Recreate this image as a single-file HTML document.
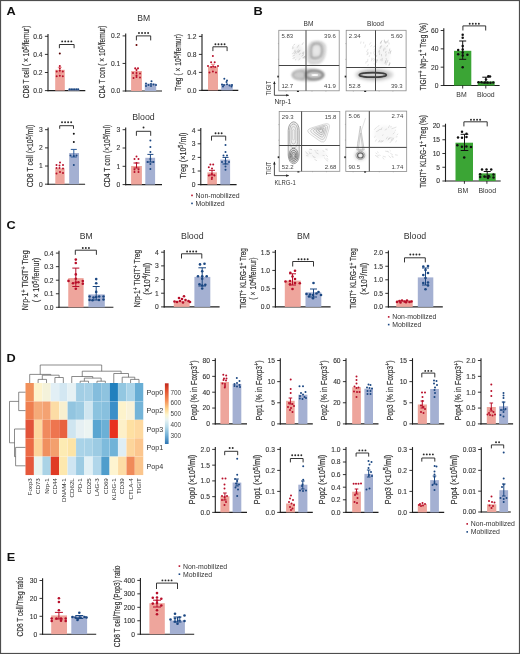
<!DOCTYPE html>
<html><head><meta charset="utf-8"><style>
html,body{margin:0;padding:0;background:#fff;}
svg{display:block;font-family:"Liberation Sans", sans-serif;filter:blur(0.35px);}
</style></head><body>
<svg width="520" height="654" viewBox="0 0 520 654">
<defs>
<filter id="bl" x="-20%" y="-20%" width="140%" height="140%"><feGaussianBlur stdDeviation="0.7"/></filter>
<filter id="fb3" x="-50%" y="-50%" width="200%" height="200%"><feGaussianBlur stdDeviation="0.3"/></filter><filter id="fb4" x="-50%" y="-50%" width="200%" height="200%"><feGaussianBlur stdDeviation="0.4"/></filter><filter id="fb5" x="-50%" y="-50%" width="200%" height="200%"><feGaussianBlur stdDeviation="0.5"/></filter><filter id="fb6" x="-50%" y="-50%" width="200%" height="200%"><feGaussianBlur stdDeviation="0.6"/></filter><filter id="fb7" x="-50%" y="-50%" width="200%" height="200%"><feGaussianBlur stdDeviation="0.7"/></filter><filter id="fb8" x="-50%" y="-50%" width="200%" height="200%"><feGaussianBlur stdDeviation="0.8"/></filter><filter id="fb9" x="-50%" y="-50%" width="200%" height="200%"><feGaussianBlur stdDeviation="0.9"/></filter><filter id="fb10" x="-50%" y="-50%" width="200%" height="200%"><feGaussianBlur stdDeviation="1.0"/></filter><filter id="fb11" x="-50%" y="-50%" width="200%" height="200%"><feGaussianBlur stdDeviation="1.1"/></filter><filter id="fb12" x="-50%" y="-50%" width="200%" height="200%"><feGaussianBlur stdDeviation="1.2"/></filter><filter id="fb13" x="-50%" y="-50%" width="200%" height="200%"><feGaussianBlur stdDeviation="1.3"/></filter><filter id="fb14" x="-50%" y="-50%" width="200%" height="200%"><feGaussianBlur stdDeviation="1.4"/></filter><filter id="fb15" x="-50%" y="-50%" width="200%" height="200%"><feGaussianBlur stdDeviation="1.5"/></filter><filter id="fb16" x="-50%" y="-50%" width="200%" height="200%"><feGaussianBlur stdDeviation="1.6"/></filter><filter id="fb17" x="-50%" y="-50%" width="200%" height="200%"><feGaussianBlur stdDeviation="1.7"/></filter><filter id="fb18" x="-50%" y="-50%" width="200%" height="200%"><feGaussianBlur stdDeviation="1.8"/></filter><filter id="fb19" x="-50%" y="-50%" width="200%" height="200%"><feGaussianBlur stdDeviation="1.9"/></filter>
<filter id="bl2" x="-20%" y="-20%" width="140%" height="140%"><feGaussianBlur stdDeviation="1.2"/></filter>
<linearGradient id="cbar" x1="0" y1="0" x2="0" y2="1">
<stop offset="0" stop-color="#c0261c"/><stop offset="0.12" stop-color="#e2512f"/><stop offset="0.28" stop-color="#f48c55"/>
<stop offset="0.42" stop-color="#fdd38c"/><stop offset="0.52" stop-color="#fdf6cf"/><stop offset="0.6" stop-color="#e9f4f4"/>
<stop offset="0.72" stop-color="#b7dbeb"/><stop offset="0.86" stop-color="#6eaed6"/><stop offset="1" stop-color="#2c74b1"/>
</linearGradient>
</defs>
<rect x="0" y="0" width="520" height="654" fill="#fff"/>
<g filter="url(#fb15)"><ellipse cx="298.50" cy="52.50" rx="5.50" ry="7.50" fill="#000" fill-opacity="0.05" stroke="none" stroke-width="0.6" opacity="1"/></g>
<g filter="url(#fb5)"><line x1="293.75" y1="58.56" x2="295.24" y2="57.21" stroke="#b4b4b4" stroke-width="0.45"/><line x1="298.44" y1="52.19" x2="300.48" y2="49.88" stroke="#b4b4b4" stroke-width="0.45"/><line x1="293.22" y1="45.45" x2="295.08" y2="44.00" stroke="#b4b4b4" stroke-width="0.45"/><line x1="301.91" y1="45.03" x2="303.36" y2="42.47" stroke="#b4b4b4" stroke-width="0.45"/><line x1="294.97" y1="60.12" x2="296.26" y2="59.24" stroke="#b4b4b4" stroke-width="0.45"/><line x1="292.33" y1="53.66" x2="294.25" y2="52.46" stroke="#b4b4b4" stroke-width="0.45"/><line x1="294.82" y1="51.75" x2="295.01" y2="49.82" stroke="#b4b4b4" stroke-width="0.45"/><line x1="297.69" y1="52.93" x2="298.28" y2="51.06" stroke="#b4b4b4" stroke-width="0.45"/><line x1="294.84" y1="52.35" x2="295.39" y2="50.91" stroke="#b4b4b4" stroke-width="0.45"/><line x1="302.89" y1="53.90" x2="304.11" y2="52.49" stroke="#b4b4b4" stroke-width="0.45"/><line x1="304.90" y1="58.76" x2="305.32" y2="56.63" stroke="#b4b4b4" stroke-width="0.45"/><line x1="301.38" y1="56.38" x2="303.36" y2="55.13" stroke="#b4b4b4" stroke-width="0.45"/><line x1="302.79" y1="55.72" x2="303.77" y2="53.23" stroke="#b4b4b4" stroke-width="0.45"/><line x1="303.47" y1="58.54" x2="304.93" y2="56.29" stroke="#b4b4b4" stroke-width="0.45"/><line x1="292.45" y1="48.88" x2="294.23" y2="47.38" stroke="#b4b4b4" stroke-width="0.45"/><line x1="294.25" y1="53.78" x2="296.24" y2="51.74" stroke="#b4b4b4" stroke-width="0.45"/><line x1="296.87" y1="52.02" x2="298.54" y2="49.47" stroke="#b4b4b4" stroke-width="0.45"/><line x1="298.77" y1="51.29" x2="299.60" y2="49.97" stroke="#b4b4b4" stroke-width="0.45"/><line x1="292.57" y1="56.25" x2="294.90" y2="54.93" stroke="#b4b4b4" stroke-width="0.45"/><line x1="297.12" y1="47.73" x2="299.00" y2="44.81" stroke="#b4b4b4" stroke-width="0.45"/><line x1="302.02" y1="53.63" x2="303.59" y2="52.46" stroke="#b4b4b4" stroke-width="0.45"/><line x1="298.68" y1="60.24" x2="300.14" y2="58.31" stroke="#b4b4b4" stroke-width="0.45"/><line x1="295.50" y1="53.77" x2="296.79" y2="52.99" stroke="#b4b4b4" stroke-width="0.45"/><line x1="302.19" y1="58.13" x2="304.62" y2="56.41" stroke="#b4b4b4" stroke-width="0.45"/><line x1="302.52" y1="53.30" x2="303.91" y2="51.40" stroke="#b4b4b4" stroke-width="0.45"/><line x1="292.73" y1="58.92" x2="293.87" y2="57.40" stroke="#b4b4b4" stroke-width="0.45"/><line x1="298.56" y1="52.76" x2="299.47" y2="50.76" stroke="#b4b4b4" stroke-width="0.45"/><line x1="299.00" y1="54.98" x2="300.53" y2="53.10" stroke="#b4b4b4" stroke-width="0.45"/><line x1="292.36" y1="48.67" x2="293.02" y2="46.09" stroke="#b4b4b4" stroke-width="0.45"/><line x1="303.19" y1="57.78" x2="305.58" y2="55.75" stroke="#b4b4b4" stroke-width="0.45"/></g>
<g filter="url(#fb12)"><path d="M308,62 C306,52 307,44 312,41.5 C318,39.5 326,41 326,47 C326.5,54 324.5,61 320,63.5 C314,65 309,65 308,62 Z" fill="#000" fill-opacity="0.13"/></g>
<g filter="url(#fb9)"><path d="M311.2,57 C310.8,51 311,46 313,44.3 C316,43 320,43.2 321.3,45.5 C322.3,49 322,54 320.5,56.5 C318,58.5 312.5,59 311.2,57 Z" fill="none" stroke="#777" stroke-width="1.5" opacity="0.75"/><ellipse cx="316.40" cy="50.40" rx="3.00" ry="4.20" fill="#fff" fill-opacity="0.3" stroke="none" stroke-width="0.6" opacity="1"/></g>
<g filter="url(#fb8)"><path d="M308.6,61.5 C307.5,52 308.5,45 312.5,42.6 C318,41 324.5,42 325,47 C325.3,54 323.5,60 319.5,62.4 C314,63.6 309.5,63.6 308.6,61.5 Z" fill="none" stroke="#b0b0b0" stroke-width="0.7" opacity="0.8"/></g>
<g filter="url(#fb13)"><ellipse cx="308.30" cy="74.80" rx="16.80" ry="6.60" fill="#000" fill-opacity="0.2" stroke="none" stroke-width="0.6" opacity="1"/></g>
<g filter="url(#fb9)"><ellipse cx="314.20" cy="75.00" rx="8.80" ry="4.40" fill="none" fill-opacity="1" stroke="#5e5e5e" stroke-width="1.8" opacity="0.8"/><ellipse cx="299.50" cy="75.00" rx="6.80" ry="4.30" fill="none" fill-opacity="1" stroke="#8a8a8a" stroke-width="1.1" opacity="0.75"/></g>
<g filter="url(#fb6)"><ellipse cx="314.80" cy="75.10" rx="3.40" ry="1.00" fill="#fff" fill-opacity="0.9" stroke="none" stroke-width="0.6" opacity="1"/></g>
<rect x="278.80" y="30.30" width="60.40" height="60.50" fill="none" stroke="#8a8a8a" stroke-width="0.8"/>
<line x1="306.00" y1="30.30" x2="306.00" y2="90.80" stroke="#444" stroke-width="1.0"/>
<line x1="278.80" y1="65.50" x2="339.20" y2="65.50" stroke="#444" stroke-width="1.0"/>
<text x="281.40" y="37.60" font-size="6.0" text-anchor="start" fill="#444" font-weight="normal" >5.83</text>
<text x="335.80" y="37.60" font-size="6.0" text-anchor="end" fill="#444" font-weight="normal" >39.6</text>
<text x="281.40" y="88.00" font-size="6.0" text-anchor="start" fill="#444" font-weight="normal" >12.7</text>
<text x="335.80" y="88.00" font-size="6.0" text-anchor="end" fill="#444" font-weight="normal" >41.9</text>
<line x1="277.90" y1="43.61" x2="278.80" y2="43.61" stroke="#888" stroke-width="0.5"/>
<line x1="277.90" y1="59.34" x2="278.80" y2="59.34" stroke="#888" stroke-width="0.5"/>
<rect x="277.30" y="75.67" width="1.5" height="1.8" fill="#222"/>
<rect x="296.92" y="90.80" width="2.0" height="1.2" fill="#222"/>
<line x1="286.05" y1="90.80" x2="286.05" y2="91.70" stroke="#888" stroke-width="0.5"/>
<line x1="312.02" y1="90.80" x2="312.02" y2="91.70" stroke="#888" stroke-width="0.5"/>
<line x1="325.91" y1="90.80" x2="325.91" y2="91.70" stroke="#888" stroke-width="0.5"/>
<g filter="url(#fb15)"><ellipse cx="383.00" cy="54.50" rx="7.00" ry="11.00" fill="#000" fill-opacity="0.04" stroke="none" stroke-width="0.6" opacity="1"/></g>
<g filter="url(#fb5)"><line x1="374.34" y1="64.80" x2="374.05" y2="63.16" stroke="#c8c8c8" stroke-width="0.45"/><line x1="372.53" y1="59.93" x2="373.43" y2="58.01" stroke="#c8c8c8" stroke-width="0.45"/><line x1="369.09" y1="56.96" x2="369.72" y2="55.25" stroke="#c8c8c8" stroke-width="0.45"/><line x1="366.46" y1="52.05" x2="368.11" y2="48.98" stroke="#c8c8c8" stroke-width="0.45"/><line x1="374.24" y1="55.52" x2="374.68" y2="53.53" stroke="#c8c8c8" stroke-width="0.45"/><line x1="360.54" y1="43.63" x2="361.04" y2="41.55" stroke="#c8c8c8" stroke-width="0.45"/><line x1="365.70" y1="63.51" x2="366.47" y2="61.00" stroke="#c8c8c8" stroke-width="0.45"/><line x1="363.54" y1="43.55" x2="363.71" y2="41.78" stroke="#c8c8c8" stroke-width="0.45"/><line x1="367.65" y1="65.97" x2="368.46" y2="64.29" stroke="#c8c8c8" stroke-width="0.45"/><line x1="373.40" y1="61.33" x2="375.01" y2="58.43" stroke="#c8c8c8" stroke-width="0.45"/><line x1="371.44" y1="61.16" x2="371.87" y2="57.73" stroke="#c8c8c8" stroke-width="0.45"/><line x1="374.43" y1="46.71" x2="375.90" y2="44.17" stroke="#c8c8c8" stroke-width="0.45"/><line x1="366.92" y1="55.20" x2="367.78" y2="51.96" stroke="#c8c8c8" stroke-width="0.45"/><line x1="367.51" y1="62.13" x2="367.92" y2="58.88" stroke="#c8c8c8" stroke-width="0.45"/><line x1="373.50" y1="53.60" x2="374.60" y2="50.45" stroke="#c8c8c8" stroke-width="0.45"/><line x1="370.86" y1="54.19" x2="370.84" y2="52.04" stroke="#c8c8c8" stroke-width="0.45"/><line x1="370.49" y1="46.82" x2="371.77" y2="45.23" stroke="#c8c8c8" stroke-width="0.45"/><line x1="373.67" y1="50.12" x2="375.61" y2="47.95" stroke="#c8c8c8" stroke-width="0.45"/><line x1="367.56" y1="54.91" x2="368.66" y2="52.47" stroke="#c8c8c8" stroke-width="0.45"/><line x1="364.68" y1="47.78" x2="365.62" y2="44.55" stroke="#c8c8c8" stroke-width="0.45"/><line x1="369.35" y1="44.73" x2="370.99" y2="42.28" stroke="#c8c8c8" stroke-width="0.45"/><line x1="373.61" y1="47.40" x2="374.41" y2="46.00" stroke="#c8c8c8" stroke-width="0.45"/></g>
<g filter="url(#fb5)"><line x1="379.57" y1="55.06" x2="379.68" y2="52.36" stroke="#b0b0b0" stroke-width="0.45"/><line x1="385.39" y1="43.57" x2="384.40" y2="40.55" stroke="#b0b0b0" stroke-width="0.45"/><line x1="379.89" y1="47.62" x2="381.40" y2="45.71" stroke="#b0b0b0" stroke-width="0.45"/><line x1="388.55" y1="53.43" x2="389.10" y2="51.72" stroke="#b0b0b0" stroke-width="0.45"/><line x1="385.52" y1="62.83" x2="386.10" y2="59.91" stroke="#b0b0b0" stroke-width="0.45"/><line x1="386.07" y1="43.54" x2="387.19" y2="41.10" stroke="#b0b0b0" stroke-width="0.45"/><line x1="380.52" y1="42.74" x2="381.77" y2="40.64" stroke="#b0b0b0" stroke-width="0.45"/><line x1="386.78" y1="63.09" x2="388.04" y2="59.99" stroke="#b0b0b0" stroke-width="0.45"/><line x1="381.92" y1="61.22" x2="382.31" y2="57.87" stroke="#b0b0b0" stroke-width="0.45"/><line x1="389.18" y1="44.34" x2="388.81" y2="42.44" stroke="#b0b0b0" stroke-width="0.45"/><line x1="390.48" y1="52.47" x2="391.10" y2="50.46" stroke="#b0b0b0" stroke-width="0.45"/><line x1="383.61" y1="51.26" x2="383.67" y2="48.59" stroke="#b0b0b0" stroke-width="0.45"/><line x1="384.76" y1="63.70" x2="385.92" y2="60.55" stroke="#b0b0b0" stroke-width="0.45"/><line x1="388.85" y1="65.78" x2="389.46" y2="64.06" stroke="#b0b0b0" stroke-width="0.45"/><line x1="388.91" y1="65.15" x2="390.35" y2="62.94" stroke="#b0b0b0" stroke-width="0.45"/><line x1="386.71" y1="47.07" x2="387.98" y2="44.75" stroke="#b0b0b0" stroke-width="0.45"/><line x1="380.27" y1="43.52" x2="382.02" y2="40.51" stroke="#b0b0b0" stroke-width="0.45"/><line x1="377.33" y1="61.21" x2="377.47" y2="59.42" stroke="#b0b0b0" stroke-width="0.45"/><line x1="380.41" y1="60.45" x2="381.23" y2="59.09" stroke="#b0b0b0" stroke-width="0.45"/><line x1="385.22" y1="43.08" x2="386.04" y2="41.08" stroke="#b0b0b0" stroke-width="0.45"/><line x1="389.21" y1="65.54" x2="389.83" y2="62.09" stroke="#b0b0b0" stroke-width="0.45"/><line x1="380.65" y1="43.85" x2="381.06" y2="42.34" stroke="#b0b0b0" stroke-width="0.45"/><line x1="378.96" y1="51.79" x2="379.46" y2="50.05" stroke="#b0b0b0" stroke-width="0.45"/><line x1="376.64" y1="62.83" x2="376.58" y2="59.41" stroke="#b0b0b0" stroke-width="0.45"/><line x1="389.45" y1="51.07" x2="389.78" y2="48.55" stroke="#b0b0b0" stroke-width="0.45"/><line x1="385.66" y1="56.30" x2="386.28" y2="53.63" stroke="#b0b0b0" stroke-width="0.45"/><line x1="390.11" y1="54.17" x2="390.41" y2="51.24" stroke="#b0b0b0" stroke-width="0.45"/><line x1="379.56" y1="49.23" x2="381.10" y2="47.20" stroke="#b0b0b0" stroke-width="0.45"/><line x1="384.23" y1="42.27" x2="384.45" y2="39.62" stroke="#b0b0b0" stroke-width="0.45"/><line x1="376.30" y1="56.78" x2="376.78" y2="55.23" stroke="#b0b0b0" stroke-width="0.45"/><line x1="385.41" y1="53.19" x2="386.17" y2="51.12" stroke="#b0b0b0" stroke-width="0.45"/><line x1="386.60" y1="59.71" x2="386.11" y2="58.17" stroke="#b0b0b0" stroke-width="0.45"/><line x1="386.14" y1="65.12" x2="385.95" y2="62.71" stroke="#b0b0b0" stroke-width="0.45"/><line x1="384.89" y1="49.68" x2="384.96" y2="47.56" stroke="#b0b0b0" stroke-width="0.45"/><line x1="381.54" y1="56.29" x2="381.47" y2="54.04" stroke="#b0b0b0" stroke-width="0.45"/><line x1="387.58" y1="42.65" x2="388.29" y2="39.76" stroke="#b0b0b0" stroke-width="0.45"/><line x1="380.65" y1="47.34" x2="381.55" y2="45.58" stroke="#b0b0b0" stroke-width="0.45"/><line x1="378.81" y1="52.45" x2="379.43" y2="50.86" stroke="#b0b0b0" stroke-width="0.45"/></g>
<g filter="url(#fb15)"><ellipse cx="374.30" cy="74.80" rx="19.00" ry="6.40" fill="#000" fill-opacity="0.16" stroke="none" stroke-width="0.6" opacity="1"/></g>
<g filter="url(#fb10)"><ellipse cx="373.50" cy="74.90" rx="15.50" ry="4.30" fill="#000" fill-opacity="0.14" stroke="none" stroke-width="0.6" opacity="1"/></g>
<g filter="url(#fb6)"><ellipse cx="372.80" cy="74.90" rx="13.50" ry="2.30" fill="none" fill-opacity="1" stroke="#2a2a2a" stroke-width="1.7" opacity="0.85"/><ellipse cx="372.80" cy="74.90" rx="10.50" ry="0.70" fill="#fff" fill-opacity="0.6" stroke="none" stroke-width="0.6" opacity="1"/></g>
<rect x="346.20" y="30.30" width="59.90" height="60.50" fill="none" stroke="#8a8a8a" stroke-width="0.8"/>
<line x1="375.50" y1="30.30" x2="375.50" y2="90.80" stroke="#444" stroke-width="1.0"/>
<line x1="346.20" y1="67.50" x2="406.10" y2="67.50" stroke="#444" stroke-width="1.0"/>
<text x="348.80" y="37.60" font-size="6.0" text-anchor="start" fill="#444" font-weight="normal" >2.34</text>
<text x="402.70" y="37.60" font-size="6.0" text-anchor="end" fill="#444" font-weight="normal" >5.60</text>
<text x="348.80" y="88.00" font-size="6.0" text-anchor="start" fill="#444" font-weight="normal" >52.8</text>
<text x="402.70" y="88.00" font-size="6.0" text-anchor="end" fill="#444" font-weight="normal" >39.3</text>
<line x1="345.30" y1="43.61" x2="346.20" y2="43.61" stroke="#888" stroke-width="0.5"/>
<line x1="345.30" y1="59.34" x2="346.20" y2="59.34" stroke="#888" stroke-width="0.5"/>
<rect x="344.70" y="75.67" width="1.5" height="1.8" fill="#222"/>
<rect x="364.17" y="90.80" width="2.0" height="1.2" fill="#222"/>
<line x1="353.39" y1="90.80" x2="353.39" y2="91.70" stroke="#888" stroke-width="0.5"/>
<line x1="379.14" y1="90.80" x2="379.14" y2="91.70" stroke="#888" stroke-width="0.5"/>
<line x1="392.92" y1="90.80" x2="392.92" y2="91.70" stroke="#888" stroke-width="0.5"/>
<g filter="url(#fb15)"><ellipse cx="316.00" cy="154.00" rx="11.00" ry="5.00" fill="#000" fill-opacity="0.03" stroke="none" stroke-width="0.6" opacity="1"/></g>
<g filter="url(#fb5)"><line x1="310.43" y1="149.24" x2="312.12" y2="149.75" stroke="#c0c0c0" stroke-width="0.45"/><line x1="306.53" y1="152.82" x2="308.49" y2="154.91" stroke="#c0c0c0" stroke-width="0.45"/><line x1="322.60" y1="150.66" x2="324.38" y2="151.50" stroke="#c0c0c0" stroke-width="0.45"/><line x1="308.97" y1="149.27" x2="312.03" y2="149.63" stroke="#c0c0c0" stroke-width="0.45"/><line x1="324.07" y1="157.68" x2="325.46" y2="158.86" stroke="#c0c0c0" stroke-width="0.45"/><line x1="312.13" y1="155.52" x2="314.51" y2="157.27" stroke="#c0c0c0" stroke-width="0.45"/><line x1="325.24" y1="149.04" x2="327.55" y2="150.32" stroke="#c0c0c0" stroke-width="0.45"/><line x1="316.64" y1="150.13" x2="318.17" y2="150.74" stroke="#c0c0c0" stroke-width="0.45"/><line x1="326.50" y1="158.39" x2="328.31" y2="159.26" stroke="#c0c0c0" stroke-width="0.45"/><line x1="325.90" y1="154.87" x2="327.99" y2="156.94" stroke="#c0c0c0" stroke-width="0.45"/><line x1="316.69" y1="152.97" x2="318.65" y2="154.04" stroke="#c0c0c0" stroke-width="0.45"/><line x1="308.71" y1="151.66" x2="309.90" y2="152.69" stroke="#c0c0c0" stroke-width="0.45"/><line x1="306.07" y1="155.52" x2="308.44" y2="155.95" stroke="#c0c0c0" stroke-width="0.45"/><line x1="315.84" y1="152.11" x2="316.98" y2="153.55" stroke="#c0c0c0" stroke-width="0.45"/><line x1="314.49" y1="150.43" x2="316.19" y2="151.43" stroke="#c0c0c0" stroke-width="0.45"/><line x1="313.18" y1="156.96" x2="315.57" y2="157.50" stroke="#c0c0c0" stroke-width="0.45"/><line x1="325.80" y1="149.21" x2="327.69" y2="149.14" stroke="#c0c0c0" stroke-width="0.45"/><line x1="322.60" y1="155.39" x2="324.64" y2="155.67" stroke="#c0c0c0" stroke-width="0.45"/><line x1="309.08" y1="153.51" x2="311.76" y2="153.35" stroke="#c0c0c0" stroke-width="0.45"/><line x1="325.61" y1="159.46" x2="328.13" y2="161.31" stroke="#c0c0c0" stroke-width="0.45"/><line x1="305.42" y1="151.47" x2="307.24" y2="153.61" stroke="#c0c0c0" stroke-width="0.45"/><line x1="314.44" y1="159.32" x2="316.95" y2="160.76" stroke="#c0c0c0" stroke-width="0.45"/></g>
<g filter="url(#fb4)"><path d="M310.10,134.06 Q304.50,130.00 311.92,127.76 L323.58,124.24 Q331.00,122.00 329.18,128.30 L326.32,138.20 Q324.50,144.50 318.90,140.44 Z" fill="#000" fill-opacity="0.02" stroke="#c4c4c4" stroke-width="0.65"/><path d="M312.50,133.28 Q308.13,130.11 313.92,128.36 L323.01,125.62 Q328.80,123.87 327.38,128.78 L325.15,136.51 Q323.73,141.42 319.36,138.25 Z" fill="#000" fill-opacity="0.02" stroke="#b4b4b4" stroke-width="0.65"/><path d="M314.79,132.53 Q311.60,130.22 315.82,128.94 L322.47,126.93 Q326.70,125.66 325.66,129.25 L324.03,134.89 Q323.00,138.48 319.80,136.17 Z" fill="#000" fill-opacity="0.02" stroke="#a6a6a6" stroke-width="0.65"/><path d="M316.86,131.85 Q314.73,130.31 317.55,129.46 L321.98,128.12 Q324.80,127.27 324.11,129.66 L323.02,133.43 Q322.33,135.82 320.20,134.28 Z" fill="#000" fill-opacity="0.02" stroke="#9a9a9a" stroke-width="0.65"/><path d="M318.82,131.21 Q317.70,130.40 319.18,129.95 L321.52,129.25 Q323.00,128.80 322.64,130.06 L322.06,132.04 Q321.70,133.30 320.58,132.49 Z" fill="#000" fill-opacity="0.02" stroke="#959595" stroke-width="0.65"/></g>
<g filter="url(#fb5)"><rect x="288.20" y="121.80" width="11.00" height="42.00" rx="5.50" ry="8.80" fill="#000" fill-opacity="0.07" stroke="#8a8a8a" stroke-width="0.75"/><rect x="289.60" y="124.00" width="8.00" height="24.00" rx="4.00" ry="6.40" fill="none" fill-opacity="0" stroke="#9a9a9a" stroke-width="0.65"/><rect x="291.20" y="126.50" width="4.60" height="17.50" rx="2.30" ry="3.68" fill="none" fill-opacity="0" stroke="#aaa" stroke-width="0.55"/><rect x="292.40" y="129.50" width="2.20" height="10.50" rx="1.10" ry="1.76" fill="none" fill-opacity="0" stroke="#bbb" stroke-width="0.5"/><ellipse cx="293.60" cy="155.20" rx="4.50" ry="7.00" fill="#000" fill-opacity="0.07" stroke="#6a6a6a" stroke-width="0.75" opacity="1"/><ellipse cx="293.60" cy="155.40" rx="3.30" ry="5.00" fill="none" fill-opacity="1" stroke="#5a5a5a" stroke-width="0.75" opacity="1"/><ellipse cx="293.60" cy="155.60" rx="2.10" ry="3.20" fill="none" fill-opacity="1" stroke="#555" stroke-width="0.7" opacity="1"/><ellipse cx="293.60" cy="155.80" rx="1.00" ry="1.60" fill="none" fill-opacity="1" stroke="#777" stroke-width="0.6" opacity="1"/></g>
<rect x="279.20" y="111.40" width="60.60" height="59.90" fill="none" stroke="#8a8a8a" stroke-width="0.8"/>
<line x1="301.60" y1="111.40" x2="301.60" y2="171.30" stroke="#444" stroke-width="1.0"/>
<line x1="279.20" y1="145.50" x2="339.80" y2="145.50" stroke="#444" stroke-width="1.0"/>
<text x="281.80" y="118.70" font-size="6.0" text-anchor="start" fill="#444" font-weight="normal" >29.3</text>
<text x="336.40" y="118.70" font-size="6.0" text-anchor="end" fill="#444" font-weight="normal" >15.8</text>
<text x="281.80" y="168.50" font-size="6.0" text-anchor="start" fill="#444" font-weight="normal" >52.2</text>
<text x="336.40" y="168.50" font-size="6.0" text-anchor="end" fill="#444" font-weight="normal" >2.68</text>
<line x1="278.30" y1="124.58" x2="279.20" y2="124.58" stroke="#888" stroke-width="0.5"/>
<line x1="278.30" y1="140.15" x2="279.20" y2="140.15" stroke="#888" stroke-width="0.5"/>
<rect x="277.70" y="156.33" width="1.5" height="1.8" fill="#222"/>
<rect x="297.38" y="171.30" width="2.0" height="1.2" fill="#222"/>
<line x1="286.47" y1="171.30" x2="286.47" y2="172.20" stroke="#888" stroke-width="0.5"/>
<line x1="312.53" y1="171.30" x2="312.53" y2="172.20" stroke="#888" stroke-width="0.5"/>
<line x1="326.47" y1="171.30" x2="326.47" y2="172.20" stroke="#888" stroke-width="0.5"/>
<g filter="url(#fb15)"><ellipse cx="385.00" cy="134.00" rx="11.00" ry="8.00" fill="#000" fill-opacity="0.03" stroke="none" stroke-width="0.6" opacity="1"/></g>
<g filter="url(#fb5)"><line x1="388.33" y1="138.61" x2="391.56" y2="137.59" stroke="#c0c0c0" stroke-width="0.45"/><line x1="391.02" y1="141.68" x2="392.18" y2="139.55" stroke="#c0c0c0" stroke-width="0.45"/><line x1="395.70" y1="137.03" x2="397.39" y2="136.69" stroke="#c0c0c0" stroke-width="0.45"/><line x1="384.79" y1="130.19" x2="387.04" y2="128.79" stroke="#c0c0c0" stroke-width="0.45"/><line x1="374.30" y1="129.68" x2="376.57" y2="127.25" stroke="#c0c0c0" stroke-width="0.45"/><line x1="391.61" y1="128.71" x2="393.31" y2="128.18" stroke="#c0c0c0" stroke-width="0.45"/><line x1="388.20" y1="128.15" x2="389.68" y2="125.27" stroke="#c0c0c0" stroke-width="0.45"/><line x1="378.82" y1="129.66" x2="382.04" y2="129.28" stroke="#c0c0c0" stroke-width="0.45"/><line x1="380.65" y1="142.35" x2="383.07" y2="140.83" stroke="#c0c0c0" stroke-width="0.45"/><line x1="378.71" y1="142.00" x2="381.86" y2="140.63" stroke="#c0c0c0" stroke-width="0.45"/><line x1="394.56" y1="131.08" x2="395.91" y2="129.85" stroke="#c0c0c0" stroke-width="0.45"/><line x1="377.35" y1="127.11" x2="379.24" y2="125.17" stroke="#c0c0c0" stroke-width="0.45"/><line x1="374.08" y1="137.52" x2="375.61" y2="136.06" stroke="#c0c0c0" stroke-width="0.45"/><line x1="392.83" y1="134.17" x2="394.57" y2="132.43" stroke="#c0c0c0" stroke-width="0.45"/><line x1="390.21" y1="126.97" x2="391.74" y2="126.78" stroke="#c0c0c0" stroke-width="0.45"/><line x1="391.25" y1="140.36" x2="392.69" y2="137.65" stroke="#c0c0c0" stroke-width="0.45"/><line x1="382.42" y1="135.83" x2="383.16" y2="134.42" stroke="#c0c0c0" stroke-width="0.45"/><line x1="378.16" y1="142.24" x2="380.02" y2="139.87" stroke="#c0c0c0" stroke-width="0.45"/><line x1="395.38" y1="142.01" x2="396.99" y2="140.50" stroke="#c0c0c0" stroke-width="0.45"/><line x1="386.07" y1="139.19" x2="387.71" y2="136.68" stroke="#c0c0c0" stroke-width="0.45"/><line x1="392.34" y1="140.61" x2="393.98" y2="137.65" stroke="#c0c0c0" stroke-width="0.45"/><line x1="376.10" y1="131.79" x2="379.04" y2="130.22" stroke="#c0c0c0" stroke-width="0.45"/><line x1="381.82" y1="141.71" x2="383.63" y2="140.59" stroke="#c0c0c0" stroke-width="0.45"/><line x1="381.29" y1="129.02" x2="382.22" y2="127.48" stroke="#c0c0c0" stroke-width="0.45"/><line x1="389.85" y1="142.94" x2="390.79" y2="141.66" stroke="#c0c0c0" stroke-width="0.45"/><line x1="396.69" y1="135.07" x2="398.21" y2="133.81" stroke="#c0c0c0" stroke-width="0.45"/><line x1="387.66" y1="140.05" x2="389.53" y2="138.64" stroke="#c0c0c0" stroke-width="0.45"/><line x1="375.28" y1="141.57" x2="376.48" y2="139.39" stroke="#c0c0c0" stroke-width="0.45"/><line x1="393.28" y1="128.22" x2="396.46" y2="127.00" stroke="#c0c0c0" stroke-width="0.45"/><line x1="388.50" y1="139.40" x2="389.79" y2="137.41" stroke="#c0c0c0" stroke-width="0.45"/></g>
<g filter="url(#fb5)"><line x1="391.66" y1="156.58" x2="393.45" y2="157.52" stroke="#c4c4c4" stroke-width="0.45"/><line x1="375.01" y1="155.30" x2="377.70" y2="156.67" stroke="#c4c4c4" stroke-width="0.45"/><line x1="382.84" y1="156.16" x2="385.83" y2="157.00" stroke="#c4c4c4" stroke-width="0.45"/><line x1="390.33" y1="153.31" x2="392.79" y2="154.78" stroke="#c4c4c4" stroke-width="0.45"/><line x1="379.05" y1="154.43" x2="380.46" y2="155.89" stroke="#c4c4c4" stroke-width="0.45"/><line x1="391.87" y1="155.49" x2="393.31" y2="157.11" stroke="#c4c4c4" stroke-width="0.45"/><line x1="376.96" y1="156.40" x2="378.61" y2="158.12" stroke="#c4c4c4" stroke-width="0.45"/><line x1="376.97" y1="151.58" x2="378.65" y2="152.81" stroke="#c4c4c4" stroke-width="0.45"/><line x1="394.98" y1="154.71" x2="397.73" y2="155.27" stroke="#c4c4c4" stroke-width="0.45"/><line x1="382.57" y1="157.46" x2="384.12" y2="159.46" stroke="#c4c4c4" stroke-width="0.45"/><line x1="388.54" y1="155.58" x2="390.93" y2="158.07" stroke="#c4c4c4" stroke-width="0.45"/><line x1="375.60" y1="152.89" x2="377.34" y2="154.08" stroke="#c4c4c4" stroke-width="0.45"/><line x1="387.37" y1="150.72" x2="389.00" y2="152.68" stroke="#c4c4c4" stroke-width="0.45"/><line x1="377.45" y1="155.30" x2="379.25" y2="155.88" stroke="#c4c4c4" stroke-width="0.45"/><line x1="385.16" y1="151.10" x2="388.32" y2="151.78" stroke="#c4c4c4" stroke-width="0.45"/><line x1="389.66" y1="150.10" x2="390.76" y2="151.18" stroke="#c4c4c4" stroke-width="0.45"/></g>
<g filter="url(#fb4)"><path d="M356.8,150 L360.3,126 L364.2,150 Z" fill="#000" fill-opacity="0.04" stroke="#a8a8a8" stroke-width="0.6"/><path d="M358.2,150 L360.5,133 L362.8,150 Z" fill="none" stroke="#acacac" stroke-width="0.55"/><path d="M357.5,143 L365.5,118" stroke="#c8c8c8" stroke-width="0.5"/></g>
<g filter="url(#fb10)"><ellipse cx="360.40" cy="155.40" rx="6.20" ry="5.80" fill="#000" fill-opacity="0.1" stroke="none" stroke-width="0.6" opacity="1"/></g>
<g filter="url(#fb5)"><ellipse cx="360.40" cy="155.40" rx="2.80" ry="2.60" fill="none" fill-opacity="1" stroke="#444" stroke-width="1.2" opacity="0.8"/><ellipse cx="360.40" cy="155.40" rx="4.40" ry="4.10" fill="none" fill-opacity="1" stroke="#888" stroke-width="0.6" opacity="1"/><ellipse cx="360.40" cy="155.40" rx="1.00" ry="1.00" fill="#fff" fill-opacity="0.6" stroke="none" stroke-width="0.6" opacity="1"/></g>
<rect x="345.80" y="111.10" width="60.90" height="60.30" fill="none" stroke="#8a8a8a" stroke-width="0.8"/>
<line x1="369.30" y1="111.10" x2="369.30" y2="171.40" stroke="#444" stroke-width="1.0"/>
<line x1="345.80" y1="147.40" x2="406.70" y2="147.40" stroke="#444" stroke-width="1.0"/>
<text x="348.40" y="118.40" font-size="6.0" text-anchor="start" fill="#444" font-weight="normal" >5.06</text>
<text x="403.30" y="118.40" font-size="6.0" text-anchor="end" fill="#444" font-weight="normal" >2.74</text>
<text x="348.40" y="168.60" font-size="6.0" text-anchor="start" fill="#444" font-weight="normal" >90.5</text>
<text x="403.30" y="168.60" font-size="6.0" text-anchor="end" fill="#444" font-weight="normal" >1.74</text>
<line x1="344.90" y1="124.37" x2="345.80" y2="124.37" stroke="#888" stroke-width="0.5"/>
<line x1="344.90" y1="140.04" x2="345.80" y2="140.04" stroke="#888" stroke-width="0.5"/>
<rect x="344.30" y="156.32" width="1.5" height="1.8" fill="#222"/>
<rect x="364.07" y="171.40" width="2.0" height="1.2" fill="#222"/>
<line x1="353.11" y1="171.40" x2="353.11" y2="172.30" stroke="#888" stroke-width="0.5"/>
<line x1="379.30" y1="171.40" x2="379.30" y2="172.30" stroke="#888" stroke-width="0.5"/>
<line x1="393.30" y1="171.40" x2="393.30" y2="172.30" stroke="#888" stroke-width="0.5"/>
<path d="M274.40,95.30 V81.50 M274.40,95.30 H288.80" stroke="#222" stroke-width="0.8" fill="none"/>
<path d="M273.10,84.10 L274.40,81.5 L275.70,84.10 Z" fill="#222"/>
<path d="M286.20,94.00 L288.80,95.30 L286.20,96.60 Z" fill="#222"/>
<text transform="translate(270.80,88.10) rotate(-90)" font-size="6.8" text-anchor="middle" fill="#333" textLength="14.6" lengthAdjust="spacingAndGlyphs">TIGIT</text>
<text x="274.40" y="104.30" font-size="6.9" fill="#333" textLength="16.9" lengthAdjust="spacingAndGlyphs">Nrp-1</text>
<path d="M274.40,175.60 V161.80 M274.40,175.60 H288.80" stroke="#222" stroke-width="0.8" fill="none"/>
<path d="M273.10,164.40 L274.40,161.79999999999998 L275.70,164.40 Z" fill="#222"/>
<path d="M286.20,174.30 L288.80,175.60 L286.20,176.90 Z" fill="#222"/>
<text transform="translate(270.80,168.30) rotate(-90)" font-size="6.8" text-anchor="middle" fill="#333" textLength="13.0" lengthAdjust="spacingAndGlyphs">TIGIT</text>
<text x="274.40" y="184.60" font-size="6.9" fill="#333" textLength="21.3" lengthAdjust="spacingAndGlyphs">KLRG-1</text>
<text transform="translate(6.60,14.80) scale(1.14,1)" font-size="11.2" font-weight="bold" fill="#111">A</text>
<text transform="translate(253.40,14.60) scale(1.14,1)" font-size="11.2" font-weight="bold" fill="#111">B</text>
<text transform="translate(6.60,228.70) scale(1.14,1)" font-size="11.2" font-weight="bold" fill="#111">C</text>
<text transform="translate(6.40,362.30) scale(1.14,1)" font-size="11.2" font-weight="bold" fill="#111">D</text>
<text transform="translate(6.80,560.50) scale(1.14,1)" font-size="11.2" font-weight="bold" fill="#111">E</text>
<text x="143.70" y="20.60" font-size="8.6" text-anchor="middle" fill="#333" font-weight="normal" >BM</text>
<text x="143.50" y="119.70" font-size="8.8" text-anchor="middle" fill="#333" font-weight="normal" >Blood</text>
<line x1="48.00" y1="34.00" x2="48.00" y2="91.15" stroke="#1e1e1e" stroke-width="1.1"/>
<line x1="47.50" y1="90.60" x2="85.30" y2="90.60" stroke="#1e1e1e" stroke-width="1.1"/>
<line x1="44.90" y1="36.30" x2="48.00" y2="36.30" stroke="#1e1e1e" stroke-width="0.9"/>
<text x="42.60" y="38.71" font-size="6.7" text-anchor="end" fill="#353535" font-weight="normal" stroke="#353535" stroke-width="0.12">0.6</text>
<line x1="44.90" y1="54.40" x2="48.00" y2="54.40" stroke="#1e1e1e" stroke-width="0.9"/>
<text x="42.60" y="56.81" font-size="6.7" text-anchor="end" fill="#353535" font-weight="normal" stroke="#353535" stroke-width="0.12">0.4</text>
<line x1="44.90" y1="72.50" x2="48.00" y2="72.50" stroke="#1e1e1e" stroke-width="0.9"/>
<text x="42.60" y="74.91" font-size="6.7" text-anchor="end" fill="#353535" font-weight="normal" stroke="#353535" stroke-width="0.12">0.2</text>
<line x1="44.90" y1="90.60" x2="48.00" y2="90.60" stroke="#1e1e1e" stroke-width="0.9"/>
<text x="42.60" y="93.01" font-size="6.7" text-anchor="end" fill="#353535" font-weight="normal" stroke="#353535" stroke-width="0.12">0.0</text>
<rect x="55.20" y="69.80" width="9.60" height="20.80" fill="#eea59c"/>
<rect x="68.00" y="89.40" width="11.50" height="1.20" fill="#a4b0d2"/>
<line x1="59.80" y1="67.30" x2="59.80" y2="73.00" stroke="#e88" stroke-width="1.0"/>
<line x1="57.80" y1="73.00" x2="61.80" y2="73.00" stroke="#e88" stroke-width="1.0"/>
<line x1="57.80" y1="67.30" x2="61.80" y2="67.30" stroke="#e88" stroke-width="1.0"/>
<circle cx="59.80" cy="53.40" r="1.0" fill="#500"/>
<circle cx="59.80" cy="66.00" r="1.0" fill="#b80f2a"/>
<circle cx="59.80" cy="68.50" r="1.0" fill="#b80f2a"/>
<circle cx="56.70" cy="71.40" r="1.0" fill="#b80f2a"/>
<circle cx="59.80" cy="70.80" r="1.0" fill="#b80f2a"/>
<circle cx="62.80" cy="71.40" r="1.0" fill="#b80f2a"/>
<circle cx="56.70" cy="76.30" r="1.0" fill="#b80f2a"/>
<circle cx="59.80" cy="75.70" r="1.0" fill="#b80f2a"/>
<circle cx="62.80" cy="76.30" r="1.0" fill="#b80f2a"/>
<circle cx="69.50" cy="89.30" r="1.0" fill="#1b4782"/>
<circle cx="71.20" cy="89.30" r="1.0" fill="#1b4782"/>
<circle cx="73.00" cy="89.30" r="1.0" fill="#1b4782"/>
<circle cx="74.80" cy="89.30" r="1.0" fill="#1b4782"/>
<circle cx="76.60" cy="89.30" r="1.0" fill="#1b4782"/>
<circle cx="78.20" cy="89.30" r="1.0" fill="#1b4782"/>
<path d="M59.40,48.20 V44.50 H74.10 V48.20" fill="none" stroke="#1e1e1e" stroke-width="0.9"/>
<circle cx="62.17" cy="41.40" r="0.95" fill="#2a2a2a"/>
<circle cx="65.22" cy="41.40" r="0.95" fill="#2a2a2a"/>
<circle cx="68.28" cy="41.40" r="0.95" fill="#2a2a2a"/>
<circle cx="71.33" cy="41.40" r="0.95" fill="#2a2a2a"/>
<text transform="translate(28.90,61.90) rotate(-90)" font-size="8.2" text-anchor="middle" fill="#353535" stroke="#353535" stroke-width="0.18" textLength="72.8" lengthAdjust="spacingAndGlyphs">CD8 T cell ( × 10<tspan font-size="78%" dy="-2.2">5</tspan><tspan dy="2.2">/femur)</tspan></text>
<line x1="125.70" y1="33.60" x2="125.70" y2="91.55" stroke="#1e1e1e" stroke-width="1.1"/>
<line x1="125.20" y1="91.00" x2="162.00" y2="91.00" stroke="#1e1e1e" stroke-width="1.1"/>
<line x1="122.60" y1="35.90" x2="125.70" y2="35.90" stroke="#1e1e1e" stroke-width="0.9"/>
<text x="120.30" y="38.31" font-size="6.7" text-anchor="end" fill="#353535" font-weight="normal" stroke="#353535" stroke-width="0.12">0.2</text>
<line x1="122.60" y1="63.45" x2="125.70" y2="63.45" stroke="#1e1e1e" stroke-width="0.9"/>
<text x="120.30" y="65.86" font-size="6.7" text-anchor="end" fill="#353535" font-weight="normal" stroke="#353535" stroke-width="0.12">0.1</text>
<line x1="122.60" y1="91.00" x2="125.70" y2="91.00" stroke="#1e1e1e" stroke-width="0.9"/>
<text x="120.30" y="93.41" font-size="6.7" text-anchor="end" fill="#353535" font-weight="normal" stroke="#353535" stroke-width="0.12">0.0</text>
<rect x="131.10" y="71.00" width="10.80" height="20.00" fill="#eea59c"/>
<rect x="144.80" y="83.50" width="11.40" height="7.50" fill="#a4b0d2"/>
<line x1="136.50" y1="69.00" x2="136.50" y2="75.00" stroke="#e88" stroke-width="1.0"/>
<line x1="134.50" y1="75.00" x2="138.50" y2="75.00" stroke="#e88" stroke-width="1.0"/>
<line x1="134.50" y1="69.00" x2="138.50" y2="69.00" stroke="#e88" stroke-width="1.0"/>
<circle cx="136.50" cy="44.90" r="1.0" fill="#600"/>
<circle cx="135.20" cy="68.20" r="1.0" fill="#b80f2a"/>
<circle cx="138.00" cy="68.20" r="1.0" fill="#b80f2a"/>
<circle cx="136.50" cy="70.00" r="1.0" fill="#b80f2a"/>
<circle cx="133.00" cy="73.00" r="1.0" fill="#b80f2a"/>
<circle cx="136.50" cy="73.00" r="1.0" fill="#b80f2a"/>
<circle cx="140.00" cy="73.50" r="1.0" fill="#b80f2a"/>
<circle cx="136.50" cy="75.50" r="1.0" fill="#b80f2a"/>
<circle cx="133.50" cy="78.00" r="1.0" fill="#b80f2a"/>
<circle cx="136.50" cy="77.00" r="1.0" fill="#b80f2a"/>
<circle cx="140.00" cy="77.50" r="1.0" fill="#b80f2a"/>
<circle cx="151.50" cy="81.30" r="1.0" fill="#1b4782"/>
<circle cx="146.00" cy="83.50" r="1.0" fill="#1b4782"/>
<circle cx="148.50" cy="85.00" r="1.0" fill="#1b4782"/>
<circle cx="151.00" cy="84.00" r="1.0" fill="#1b4782"/>
<circle cx="153.50" cy="84.50" r="1.0" fill="#1b4782"/>
<circle cx="156.00" cy="85.00" r="1.0" fill="#1b4782"/>
<circle cx="146.00" cy="86.00" r="1.0" fill="#1b4782"/>
<circle cx="151.00" cy="86.00" r="1.0" fill="#1b4782"/>
<path d="M136.40,40.40 V35.90 H150.70 V40.40" fill="none" stroke="#1e1e1e" stroke-width="0.9"/>
<circle cx="138.98" cy="33.00" r="0.95" fill="#2a2a2a"/>
<circle cx="142.03" cy="33.00" r="0.95" fill="#2a2a2a"/>
<circle cx="145.08" cy="33.00" r="0.95" fill="#2a2a2a"/>
<circle cx="148.12" cy="33.00" r="0.95" fill="#2a2a2a"/>
<text transform="translate(104.80,61.90) rotate(-90)" font-size="8.2" text-anchor="middle" fill="#353535" stroke="#353535" stroke-width="0.18" textLength="72.8" lengthAdjust="spacingAndGlyphs">CD4 T con ( × 10<tspan font-size="78%" dy="-2.2">5</tspan><tspan dy="2.2">/femur)</tspan></text>
<line x1="202.00" y1="34.10" x2="202.00" y2="90.95" stroke="#1e1e1e" stroke-width="1.1"/>
<line x1="201.50" y1="90.40" x2="238.30" y2="90.40" stroke="#1e1e1e" stroke-width="1.1"/>
<line x1="198.90" y1="36.40" x2="202.00" y2="36.40" stroke="#1e1e1e" stroke-width="0.9"/>
<text x="196.60" y="38.81" font-size="6.7" text-anchor="end" fill="#353535" font-weight="normal" stroke="#353535" stroke-width="0.12">1.2</text>
<line x1="198.90" y1="54.40" x2="202.00" y2="54.40" stroke="#1e1e1e" stroke-width="0.9"/>
<text x="196.60" y="56.81" font-size="6.7" text-anchor="end" fill="#353535" font-weight="normal" stroke="#353535" stroke-width="0.12">0.8</text>
<line x1="198.90" y1="72.40" x2="202.00" y2="72.40" stroke="#1e1e1e" stroke-width="0.9"/>
<text x="196.60" y="74.81" font-size="6.7" text-anchor="end" fill="#353535" font-weight="normal" stroke="#353535" stroke-width="0.12">0.4</text>
<line x1="198.90" y1="90.40" x2="202.00" y2="90.40" stroke="#1e1e1e" stroke-width="0.9"/>
<text x="196.60" y="92.81" font-size="6.7" text-anchor="end" fill="#353535" font-weight="normal" stroke="#353535" stroke-width="0.12">0.0</text>
<rect x="208.00" y="66.60" width="10.00" height="23.80" fill="#eea59c"/>
<rect x="221.20" y="84.20" width="11.50" height="6.20" fill="#a4b0d2"/>
<line x1="212.90" y1="64.30" x2="212.90" y2="69.00" stroke="#e88" stroke-width="1.0"/>
<line x1="210.90" y1="69.00" x2="214.90" y2="69.00" stroke="#e88" stroke-width="1.0"/>
<line x1="210.90" y1="64.30" x2="214.90" y2="64.30" stroke="#e88" stroke-width="1.0"/>
<circle cx="212.90" cy="56.00" r="1.0" fill="#b80f2a"/>
<circle cx="211.10" cy="62.20" r="1.0" fill="#b80f2a"/>
<circle cx="214.70" cy="62.20" r="1.0" fill="#b80f2a"/>
<circle cx="208.00" cy="66.00" r="1.0" fill="#b80f2a"/>
<circle cx="211.10" cy="67.00" r="1.0" fill="#b80f2a"/>
<circle cx="213.20" cy="66.50" r="1.0" fill="#b80f2a"/>
<circle cx="215.20" cy="67.00" r="1.0" fill="#b80f2a"/>
<circle cx="218.00" cy="66.00" r="1.0" fill="#b80f2a"/>
<circle cx="209.50" cy="72.50" r="1.0" fill="#b80f2a"/>
<circle cx="212.90" cy="71.50" r="1.0" fill="#b80f2a"/>
<circle cx="216.00" cy="72.50" r="1.0" fill="#b80f2a"/>
<circle cx="224.30" cy="78.70" r="1.0" fill="#1b4782"/>
<circle cx="227.00" cy="80.50" r="1.0" fill="#1b4782"/>
<circle cx="226.50" cy="82.00" r="1.0" fill="#1b4782"/>
<circle cx="222.00" cy="84.60" r="1.0" fill="#1b4782"/>
<circle cx="224.00" cy="85.00" r="1.0" fill="#1b4782"/>
<circle cx="227.00" cy="84.20" r="1.0" fill="#1b4782"/>
<circle cx="229.50" cy="85.50" r="1.0" fill="#1b4782"/>
<circle cx="232.00" cy="85.00" r="1.0" fill="#1b4782"/>
<circle cx="223.00" cy="86.50" r="1.0" fill="#1b4782"/>
<circle cx="231.50" cy="86.50" r="1.0" fill="#1b4782"/>
<path d="M212.90,51.10 V46.80 H227.10 V51.10" fill="none" stroke="#1e1e1e" stroke-width="0.9"/>
<circle cx="215.43" cy="44.20" r="0.95" fill="#2a2a2a"/>
<circle cx="218.47" cy="44.20" r="0.95" fill="#2a2a2a"/>
<circle cx="221.53" cy="44.20" r="0.95" fill="#2a2a2a"/>
<circle cx="224.57" cy="44.20" r="0.95" fill="#2a2a2a"/>
<text transform="translate(181.30,62.50) rotate(-90)" font-size="8.2" text-anchor="middle" fill="#353535" stroke="#353535" stroke-width="0.18" textLength="56.9" lengthAdjust="spacingAndGlyphs">Treg ( × 10<tspan font-size="78%" dy="-2.2">5</tspan><tspan dy="2.2">/femur)</tspan></text>
<line x1="48.10" y1="127.40" x2="48.10" y2="184.75" stroke="#1e1e1e" stroke-width="1.1"/>
<line x1="47.60" y1="184.20" x2="85.10" y2="184.20" stroke="#1e1e1e" stroke-width="1.1"/>
<line x1="45.00" y1="129.70" x2="48.10" y2="129.70" stroke="#1e1e1e" stroke-width="0.9"/>
<text x="42.70" y="132.11" font-size="6.7" text-anchor="end" fill="#353535" font-weight="normal" stroke="#353535" stroke-width="0.12">3</text>
<line x1="45.00" y1="147.87" x2="48.10" y2="147.87" stroke="#1e1e1e" stroke-width="0.9"/>
<text x="42.70" y="150.28" font-size="6.7" text-anchor="end" fill="#353535" font-weight="normal" stroke="#353535" stroke-width="0.12">2</text>
<line x1="45.00" y1="166.03" x2="48.10" y2="166.03" stroke="#1e1e1e" stroke-width="0.9"/>
<text x="42.70" y="168.45" font-size="6.7" text-anchor="end" fill="#353535" font-weight="normal" stroke="#353535" stroke-width="0.12">1</text>
<line x1="45.00" y1="184.20" x2="48.10" y2="184.20" stroke="#1e1e1e" stroke-width="0.9"/>
<text x="42.70" y="186.61" font-size="6.7" text-anchor="end" fill="#353535" font-weight="normal" stroke="#353535" stroke-width="0.12">0</text>
<rect x="55.30" y="168.30" width="9.30" height="15.90" fill="#eea59c"/>
<rect x="69.20" y="153.00" width="9.80" height="31.20" fill="#a4b0d2"/>
<line x1="73.80" y1="149.40" x2="73.80" y2="157.00" stroke="#2a5a9a" stroke-width="1.0"/>
<line x1="70.80" y1="157.00" x2="76.80" y2="157.00" stroke="#2a5a9a" stroke-width="1.0"/>
<line x1="70.80" y1="149.40" x2="76.80" y2="149.40" stroke="#2a5a9a" stroke-width="1.0"/>
<circle cx="60.00" cy="162.50" r="1.0" fill="#b80f2a"/>
<circle cx="56.50" cy="165.00" r="1.0" fill="#b80f2a"/>
<circle cx="59.50" cy="165.50" r="1.0" fill="#b80f2a"/>
<circle cx="63.00" cy="165.00" r="1.0" fill="#b80f2a"/>
<circle cx="56.50" cy="168.00" r="1.0" fill="#b80f2a"/>
<circle cx="59.50" cy="168.00" r="1.0" fill="#b80f2a"/>
<circle cx="63.00" cy="168.50" r="1.0" fill="#b80f2a"/>
<circle cx="56.50" cy="173.50" r="1.0" fill="#b80f2a"/>
<circle cx="60.00" cy="172.00" r="1.0" fill="#b80f2a"/>
<circle cx="63.00" cy="173.00" r="1.0" fill="#b80f2a"/>
<circle cx="73.80" cy="133.80" r="1.0" fill="#111"/>
<circle cx="73.80" cy="142.00" r="1.0" fill="#111"/>
<circle cx="70.50" cy="155.50" r="1.0" fill="#1b4782"/>
<circle cx="73.80" cy="156.00" r="1.0" fill="#1b4782"/>
<circle cx="76.50" cy="155.50" r="1.0" fill="#1b4782"/>
<circle cx="73.80" cy="165.00" r="1.0" fill="#1b4782"/>
<path d="M59.70,128.80 V125.70 H73.50 V128.80" fill="none" stroke="#1e1e1e" stroke-width="0.9"/>
<circle cx="62.02" cy="122.30" r="0.95" fill="#2a2a2a"/>
<circle cx="65.07" cy="122.30" r="0.95" fill="#2a2a2a"/>
<circle cx="68.12" cy="122.30" r="0.95" fill="#2a2a2a"/>
<circle cx="71.17" cy="122.30" r="0.95" fill="#2a2a2a"/>
<text transform="translate(33.10,156.00) rotate(-90)" font-size="8.2" text-anchor="middle" fill="#353535" stroke="#353535" stroke-width="0.18" textLength="62.4" lengthAdjust="spacingAndGlyphs">CD8 T cell (×10<tspan font-size="78%" dy="-2.2">5</tspan><tspan dy="2.2">/ml)</tspan></text>
<line x1="125.70" y1="127.40" x2="125.70" y2="185.15" stroke="#1e1e1e" stroke-width="1.1"/>
<line x1="125.20" y1="184.60" x2="162.00" y2="184.60" stroke="#1e1e1e" stroke-width="1.1"/>
<line x1="122.60" y1="129.70" x2="125.70" y2="129.70" stroke="#1e1e1e" stroke-width="0.9"/>
<text x="120.30" y="132.11" font-size="6.7" text-anchor="end" fill="#353535" font-weight="normal" stroke="#353535" stroke-width="0.12">3</text>
<line x1="122.60" y1="148.00" x2="125.70" y2="148.00" stroke="#1e1e1e" stroke-width="0.9"/>
<text x="120.30" y="150.41" font-size="6.7" text-anchor="end" fill="#353535" font-weight="normal" stroke="#353535" stroke-width="0.12">2</text>
<line x1="122.60" y1="166.30" x2="125.70" y2="166.30" stroke="#1e1e1e" stroke-width="0.9"/>
<text x="120.30" y="168.71" font-size="6.7" text-anchor="end" fill="#353535" font-weight="normal" stroke="#353535" stroke-width="0.12">1</text>
<line x1="122.60" y1="184.60" x2="125.70" y2="184.60" stroke="#1e1e1e" stroke-width="0.9"/>
<text x="120.30" y="187.01" font-size="6.7" text-anchor="end" fill="#353535" font-weight="normal" stroke="#353535" stroke-width="0.12">0</text>
<rect x="131.10" y="166.00" width="10.80" height="18.60" fill="#eea59c"/>
<rect x="145.30" y="157.80" width="9.80" height="26.80" fill="#a4b0d2"/>
<line x1="136.50" y1="163.00" x2="136.50" y2="168.00" stroke="#b80f2a" stroke-width="1.0"/>
<line x1="133.50" y1="168.00" x2="139.50" y2="168.00" stroke="#b80f2a" stroke-width="1.0"/>
<line x1="133.50" y1="163.00" x2="139.50" y2="163.00" stroke="#b80f2a" stroke-width="1.0"/>
<line x1="150.40" y1="154.40" x2="150.40" y2="162.00" stroke="#1b4782" stroke-width="1.0"/>
<line x1="147.40" y1="162.00" x2="153.40" y2="162.00" stroke="#1b4782" stroke-width="1.0"/>
<line x1="147.40" y1="154.40" x2="153.40" y2="154.40" stroke="#1b4782" stroke-width="1.0"/>
<circle cx="136.50" cy="156.50" r="1.0" fill="#b80f2a"/>
<circle cx="134.50" cy="159.00" r="1.0" fill="#b80f2a"/>
<circle cx="138.50" cy="159.00" r="1.0" fill="#b80f2a"/>
<circle cx="136.50" cy="163.00" r="1.0" fill="#b80f2a"/>
<circle cx="134.50" cy="169.50" r="1.0" fill="#b80f2a"/>
<circle cx="138.50" cy="169.50" r="1.0" fill="#b80f2a"/>
<circle cx="134.50" cy="172.00" r="1.0" fill="#b80f2a"/>
<circle cx="138.50" cy="172.00" r="1.0" fill="#b80f2a"/>
<circle cx="150.40" cy="140.50" r="1.0" fill="#1b4782"/>
<circle cx="150.40" cy="147.00" r="1.0" fill="#1b4782"/>
<circle cx="150.40" cy="152.00" r="1.0" fill="#1b4782"/>
<circle cx="147.50" cy="162.00" r="1.0" fill="#1b4782"/>
<circle cx="150.40" cy="159.00" r="1.0" fill="#1b4782"/>
<circle cx="153.50" cy="162.00" r="1.0" fill="#1b4782"/>
<circle cx="150.40" cy="164.00" r="1.0" fill="#1b4782"/>
<circle cx="150.40" cy="169.00" r="1.0" fill="#1b4782"/>
<path d="M136.40,135.80 V131.30 H150.70 V135.80" fill="none" stroke="#1e1e1e" stroke-width="0.9"/>
<circle cx="143.55" cy="127.50" r="0.95" fill="#2a2a2a"/>
<text transform="translate(109.80,156.00) rotate(-90)" font-size="8.2" text-anchor="middle" fill="#353535" stroke="#353535" stroke-width="0.18" textLength="62.4" lengthAdjust="spacingAndGlyphs">CD4 T con (×10<tspan font-size="78%" dy="-2.2">5</tspan><tspan dy="2.2">/ml)</tspan></text>
<line x1="200.80" y1="127.90" x2="200.80" y2="185.15" stroke="#1e1e1e" stroke-width="1.1"/>
<line x1="200.30" y1="184.60" x2="236.60" y2="184.60" stroke="#1e1e1e" stroke-width="1.1"/>
<line x1="197.70" y1="130.20" x2="200.80" y2="130.20" stroke="#1e1e1e" stroke-width="0.9"/>
<text x="195.40" y="132.61" font-size="6.7" text-anchor="end" fill="#353535" font-weight="normal" stroke="#353535" stroke-width="0.12">4</text>
<line x1="197.70" y1="143.80" x2="200.80" y2="143.80" stroke="#1e1e1e" stroke-width="0.9"/>
<text x="195.40" y="146.21" font-size="6.7" text-anchor="end" fill="#353535" font-weight="normal" stroke="#353535" stroke-width="0.12">3</text>
<line x1="197.70" y1="157.40" x2="200.80" y2="157.40" stroke="#1e1e1e" stroke-width="0.9"/>
<text x="195.40" y="159.81" font-size="6.7" text-anchor="end" fill="#353535" font-weight="normal" stroke="#353535" stroke-width="0.12">2</text>
<line x1="197.70" y1="171.00" x2="200.80" y2="171.00" stroke="#1e1e1e" stroke-width="0.9"/>
<text x="195.40" y="173.41" font-size="6.7" text-anchor="end" fill="#353535" font-weight="normal" stroke="#353535" stroke-width="0.12">1</text>
<line x1="197.70" y1="184.60" x2="200.80" y2="184.60" stroke="#1e1e1e" stroke-width="0.9"/>
<text x="195.40" y="187.01" font-size="6.7" text-anchor="end" fill="#353535" font-weight="normal" stroke="#353535" stroke-width="0.12">0</text>
<rect x="207.40" y="172.40" width="9.50" height="12.20" fill="#eea59c"/>
<rect x="220.30" y="159.60" width="9.80" height="25.00" fill="#a4b0d2"/>
<line x1="212.00" y1="170.30" x2="212.00" y2="175.00" stroke="#b80f2a" stroke-width="1.0"/>
<line x1="209.00" y1="175.00" x2="215.00" y2="175.00" stroke="#b80f2a" stroke-width="1.0"/>
<line x1="209.00" y1="170.30" x2="215.00" y2="170.30" stroke="#b80f2a" stroke-width="1.0"/>
<line x1="225.50" y1="157.40" x2="225.50" y2="164.00" stroke="#1b4782" stroke-width="1.0"/>
<line x1="222.50" y1="164.00" x2="228.50" y2="164.00" stroke="#1b4782" stroke-width="1.0"/>
<line x1="222.50" y1="157.40" x2="228.50" y2="157.40" stroke="#1b4782" stroke-width="1.0"/>
<circle cx="210.40" cy="164.50" r="1.0" fill="#b80f2a"/>
<circle cx="213.20" cy="164.50" r="1.0" fill="#b80f2a"/>
<circle cx="208.80" cy="167.30" r="1.0" fill="#b80f2a"/>
<circle cx="212.00" cy="168.60" r="1.0" fill="#b80f2a"/>
<circle cx="208.80" cy="175.50" r="1.0" fill="#b80f2a"/>
<circle cx="211.80" cy="174.00" r="1.0" fill="#b80f2a"/>
<circle cx="214.50" cy="175.50" r="1.0" fill="#b80f2a"/>
<circle cx="212.00" cy="177.50" r="1.0" fill="#b80f2a"/>
<circle cx="211.80" cy="179.00" r="1.0" fill="#b80f2a"/>
<circle cx="225.50" cy="145.00" r="1.0" fill="#1b4782"/>
<circle cx="225.50" cy="152.00" r="1.0" fill="#1b4782"/>
<circle cx="223.50" cy="155.50" r="1.0" fill="#1b4782"/>
<circle cx="227.00" cy="155.50" r="1.0" fill="#1b4782"/>
<circle cx="222.00" cy="162.00" r="1.0" fill="#1b4782"/>
<circle cx="225.50" cy="161.00" r="1.0" fill="#1b4782"/>
<circle cx="229.00" cy="162.00" r="1.0" fill="#1b4782"/>
<circle cx="225.50" cy="163.50" r="1.0" fill="#1b4782"/>
<circle cx="225.50" cy="166.50" r="1.0" fill="#1b4782"/>
<circle cx="225.50" cy="169.80" r="1.0" fill="#1b4782"/>
<path d="M211.50,140.60 V136.10 H225.70 V140.60" fill="none" stroke="#1e1e1e" stroke-width="0.9"/>
<circle cx="215.55" cy="133.20" r="0.95" fill="#2a2a2a"/>
<circle cx="218.60" cy="133.20" r="0.95" fill="#2a2a2a"/>
<circle cx="221.65" cy="133.20" r="0.95" fill="#2a2a2a"/>
<text transform="translate(185.50,155.60) rotate(-90)" font-size="8.2" text-anchor="middle" fill="#353535" stroke="#353535" stroke-width="0.18" textLength="45.9" lengthAdjust="spacingAndGlyphs">Treg (×10<tspan font-size="78%" dy="-2.2">5</tspan><tspan dy="2.2">/ml)</tspan></text>
<rect x="191.20" y="194.60" width="1.6" height="1.6" fill="#b80f2a"/>
<rect x="191.20" y="202.60" width="1.6" height="1.6" fill="#1b4782"/>
<text x="195.60" y="197.80" font-size="6.9" text-anchor="start" fill="#333" font-weight="normal" >Non-mobilized</text>
<text x="195.60" y="205.80" font-size="6.9" text-anchor="start" fill="#333" font-weight="normal" >Mobilized</text>
<text x="308.50" y="26.20" font-size="6.6" text-anchor="middle" fill="#333" font-weight="normal" >BM</text>
<text x="375.50" y="26.40" font-size="6.6" text-anchor="middle" fill="#333" font-weight="normal" >Blood</text>
<line x1="443.80" y1="28.20" x2="443.80" y2="86.05" stroke="#1e1e1e" stroke-width="1.1"/>
<line x1="443.30" y1="85.50" x2="499.60" y2="85.50" stroke="#1e1e1e" stroke-width="1.1"/>
<line x1="440.70" y1="30.50" x2="443.80" y2="30.50" stroke="#1e1e1e" stroke-width="0.9"/>
<text x="438.40" y="32.91" font-size="6.7" text-anchor="end" fill="#353535" font-weight="normal" stroke="#353535" stroke-width="0.12">60</text>
<line x1="440.70" y1="48.83" x2="443.80" y2="48.83" stroke="#1e1e1e" stroke-width="0.9"/>
<text x="438.40" y="51.25" font-size="6.7" text-anchor="end" fill="#353535" font-weight="normal" stroke="#353535" stroke-width="0.12">40</text>
<line x1="440.70" y1="67.17" x2="443.80" y2="67.17" stroke="#1e1e1e" stroke-width="0.9"/>
<text x="438.40" y="69.58" font-size="6.7" text-anchor="end" fill="#353535" font-weight="normal" stroke="#353535" stroke-width="0.12">20</text>
<line x1="440.70" y1="85.50" x2="443.80" y2="85.50" stroke="#1e1e1e" stroke-width="0.9"/>
<text x="438.40" y="87.91" font-size="6.7" text-anchor="end" fill="#353535" font-weight="normal" stroke="#353535" stroke-width="0.12">0</text>
<rect x="454.00" y="50.80" width="17.30" height="34.70" fill="#3ba535"/>
<rect x="477.70" y="81.50" width="16.90" height="4.00" fill="#3ba535"/>
<line x1="462.70" y1="41.00" x2="462.70" y2="59.30" stroke="#111" stroke-width="1.0"/>
<line x1="459.20" y1="59.30" x2="466.20" y2="59.30" stroke="#111" stroke-width="1.0"/>
<line x1="459.20" y1="41.00" x2="466.20" y2="41.00" stroke="#111" stroke-width="1.0"/>
<line x1="485.80" y1="77.20" x2="485.80" y2="83.00" stroke="#111" stroke-width="1.0"/>
<line x1="482.30" y1="83.00" x2="489.30" y2="83.00" stroke="#111" stroke-width="1.0"/>
<line x1="482.30" y1="77.20" x2="489.30" y2="77.20" stroke="#111" stroke-width="1.0"/>
<circle cx="462.70" cy="34.80" r="1.25" fill="#111"/>
<circle cx="462.70" cy="37.80" r="1.25" fill="#111"/>
<circle cx="462.70" cy="46.00" r="1.25" fill="#111"/>
<circle cx="458.20" cy="50.00" r="1.25" fill="#111"/>
<circle cx="462.70" cy="49.50" r="1.25" fill="#111"/>
<circle cx="462.70" cy="52.50" r="1.25" fill="#111"/>
<circle cx="458.20" cy="54.30" r="1.25" fill="#111"/>
<circle cx="462.70" cy="55.50" r="1.25" fill="#111"/>
<circle cx="467.40" cy="54.80" r="1.25" fill="#111"/>
<circle cx="462.70" cy="67.20" r="1.25" fill="#111"/>
<circle cx="478.50" cy="82.30" r="1.25" fill="#111"/>
<circle cx="481.50" cy="82.20" r="1.25" fill="#111"/>
<circle cx="484.50" cy="82.50" r="1.25" fill="#111"/>
<circle cx="487.50" cy="82.50" r="1.25" fill="#111"/>
<circle cx="490.50" cy="82.80" r="1.25" fill="#111"/>
<circle cx="493.30" cy="82.50" r="1.25" fill="#111"/>
<circle cx="486.00" cy="79.50" r="1.25" fill="#111"/>
<circle cx="488.30" cy="76.30" r="1.25" fill="#111"/>
<circle cx="490.00" cy="76.60" r="1.25" fill="#111"/>
<path d="M462.90,30.50 V25.90 H485.70 V30.50" fill="none" stroke="#1e1e1e" stroke-width="0.9"/>
<circle cx="469.72" cy="23.80" r="0.95" fill="#2a2a2a"/>
<circle cx="472.77" cy="23.80" r="0.95" fill="#2a2a2a"/>
<circle cx="475.82" cy="23.80" r="0.95" fill="#2a2a2a"/>
<circle cx="478.87" cy="23.80" r="0.95" fill="#2a2a2a"/>
<text transform="translate(425.60,56.50) rotate(-90)" font-size="8.2" text-anchor="middle" fill="#353535" stroke="#353535" stroke-width="0.18" textLength="67.5" lengthAdjust="spacingAndGlyphs">TIGIT<tspan font-size="78%" dy="-2.2">+</tspan><tspan dy="2.2"> Nrp-1</tspan><tspan font-size="78%" dy="-2.2">+</tspan><tspan dy="2.2"> Treg (%)</tspan></text>
<path d="M462.7,85.5 v3 M485.8,85.5 v3" stroke="#1e1e1e" stroke-width="0.9"/>
<text x="461.50" y="97.40" font-size="6.9" text-anchor="middle" fill="#333" font-weight="normal" >BM</text>
<text x="485.80" y="97.40" font-size="6.9" text-anchor="middle" fill="#333" font-weight="normal" >Blood</text>
<line x1="445.50" y1="123.70" x2="445.50" y2="181.55" stroke="#1e1e1e" stroke-width="1.1"/>
<line x1="445.00" y1="181.00" x2="500.70" y2="181.00" stroke="#1e1e1e" stroke-width="1.1"/>
<line x1="442.40" y1="126.00" x2="445.50" y2="126.00" stroke="#1e1e1e" stroke-width="0.9"/>
<text x="440.10" y="128.41" font-size="6.7" text-anchor="end" fill="#353535" font-weight="normal" stroke="#353535" stroke-width="0.12">20</text>
<line x1="442.40" y1="139.75" x2="445.50" y2="139.75" stroke="#1e1e1e" stroke-width="0.9"/>
<text x="440.10" y="142.16" font-size="6.7" text-anchor="end" fill="#353535" font-weight="normal" stroke="#353535" stroke-width="0.12">15</text>
<line x1="442.40" y1="153.50" x2="445.50" y2="153.50" stroke="#1e1e1e" stroke-width="0.9"/>
<text x="440.10" y="155.91" font-size="6.7" text-anchor="end" fill="#353535" font-weight="normal" stroke="#353535" stroke-width="0.12">10</text>
<line x1="442.40" y1="167.25" x2="445.50" y2="167.25" stroke="#1e1e1e" stroke-width="0.9"/>
<text x="440.10" y="169.66" font-size="6.7" text-anchor="end" fill="#353535" font-weight="normal" stroke="#353535" stroke-width="0.12">5</text>
<line x1="442.40" y1="181.00" x2="445.50" y2="181.00" stroke="#1e1e1e" stroke-width="0.9"/>
<text x="440.10" y="183.41" font-size="6.7" text-anchor="end" fill="#353535" font-weight="normal" stroke="#353535" stroke-width="0.12">0</text>
<rect x="455.50" y="142.70" width="17.50" height="38.30" fill="#3ba535"/>
<rect x="478.80" y="173.40" width="16.90" height="7.60" fill="#3ba535"/>
<line x1="464.50" y1="134.30" x2="464.50" y2="150.50" stroke="#111" stroke-width="1.0"/>
<line x1="460.70" y1="150.50" x2="468.30" y2="150.50" stroke="#111" stroke-width="1.0"/>
<line x1="460.70" y1="134.30" x2="468.30" y2="134.30" stroke="#111" stroke-width="1.0"/>
<line x1="487.20" y1="171.50" x2="487.20" y2="177.00" stroke="#111" stroke-width="1.0"/>
<line x1="483.70" y1="177.00" x2="490.70" y2="177.00" stroke="#111" stroke-width="1.0"/>
<line x1="483.70" y1="171.50" x2="490.70" y2="171.50" stroke="#111" stroke-width="1.0"/>
<circle cx="462.00" cy="131.70" r="1.25" fill="#111"/>
<circle cx="458.00" cy="137.40" r="1.25" fill="#111"/>
<circle cx="462.00" cy="137.80" r="1.25" fill="#111"/>
<circle cx="466.50" cy="133.80" r="1.25" fill="#111"/>
<circle cx="466.50" cy="137.10" r="1.25" fill="#111"/>
<circle cx="457.30" cy="145.20" r="1.25" fill="#111"/>
<circle cx="461.90" cy="146.80" r="1.25" fill="#111"/>
<circle cx="466.40" cy="146.60" r="1.25" fill="#111"/>
<circle cx="471.00" cy="147.10" r="1.25" fill="#111"/>
<circle cx="464.20" cy="157.40" r="1.25" fill="#111"/>
<circle cx="482.00" cy="169.40" r="1.25" fill="#111"/>
<circle cx="486.50" cy="169.40" r="1.25" fill="#111"/>
<circle cx="491.20" cy="169.40" r="1.25" fill="#111"/>
<circle cx="480.20" cy="174.30" r="1.25" fill="#111"/>
<circle cx="484.50" cy="176.40" r="1.25" fill="#111"/>
<circle cx="488.70" cy="176.10" r="1.25" fill="#111"/>
<circle cx="493.50" cy="174.50" r="1.25" fill="#111"/>
<circle cx="480.20" cy="177.00" r="1.25" fill="#111"/>
<circle cx="488.00" cy="178.00" r="1.25" fill="#111"/>
<circle cx="493.50" cy="177.50" r="1.25" fill="#111"/>
<path d="M463.90,126.40 V121.80 H487.20 V126.40" fill="none" stroke="#1e1e1e" stroke-width="0.9"/>
<circle cx="470.97" cy="119.70" r="0.95" fill="#2a2a2a"/>
<circle cx="474.02" cy="119.70" r="0.95" fill="#2a2a2a"/>
<circle cx="477.07" cy="119.70" r="0.95" fill="#2a2a2a"/>
<circle cx="480.12" cy="119.70" r="0.95" fill="#2a2a2a"/>
<text transform="translate(426.20,151.50) rotate(-90)" font-size="8.2" text-anchor="middle" fill="#353535" stroke="#353535" stroke-width="0.18" textLength="72.7" lengthAdjust="spacingAndGlyphs">TIGIT<tspan font-size="78%" dy="-2.2">+</tspan><tspan dy="2.2"> KLRG-1</tspan><tspan font-size="78%" dy="-2.2">+</tspan><tspan dy="2.2"> Treg (%)</tspan></text>
<path d="M464.4,181 v2.8 M486.9,181 v2.8" stroke="#1e1e1e" stroke-width="0.9"/>
<text x="463.00" y="193.20" font-size="6.9" text-anchor="middle" fill="#333" font-weight="normal" >BM</text>
<text x="487.20" y="193.20" font-size="6.9" text-anchor="middle" fill="#333" font-weight="normal" >Blood</text>
<text x="86.30" y="238.70" font-size="8.6" text-anchor="middle" fill="#333" font-weight="normal" >BM</text>
<text x="192.30" y="239.30" font-size="8.8" text-anchor="middle" fill="#333" font-weight="normal" >Blood</text>
<text x="303.40" y="238.80" font-size="8.6" text-anchor="middle" fill="#333" font-weight="normal" >BM</text>
<text x="415.00" y="239.30" font-size="8.8" text-anchor="middle" fill="#333" font-weight="normal" >Blood</text>
<line x1="59.00" y1="250.80" x2="59.00" y2="307.85" stroke="#1e1e1e" stroke-width="1.1"/>
<line x1="58.50" y1="307.30" x2="113.40" y2="307.30" stroke="#1e1e1e" stroke-width="1.1"/>
<line x1="55.90" y1="253.10" x2="59.00" y2="253.10" stroke="#1e1e1e" stroke-width="0.9"/>
<text x="53.60" y="255.51" font-size="6.7" text-anchor="end" fill="#353535" font-weight="normal" stroke="#353535" stroke-width="0.12">0.4</text>
<line x1="55.90" y1="266.65" x2="59.00" y2="266.65" stroke="#1e1e1e" stroke-width="0.9"/>
<text x="53.60" y="269.06" font-size="6.7" text-anchor="end" fill="#353535" font-weight="normal" stroke="#353535" stroke-width="0.12">0.3</text>
<line x1="55.90" y1="280.20" x2="59.00" y2="280.20" stroke="#1e1e1e" stroke-width="0.9"/>
<text x="53.60" y="282.61" font-size="6.7" text-anchor="end" fill="#353535" font-weight="normal" stroke="#353535" stroke-width="0.12">0.2</text>
<line x1="55.90" y1="293.75" x2="59.00" y2="293.75" stroke="#1e1e1e" stroke-width="0.9"/>
<text x="53.60" y="296.16" font-size="6.7" text-anchor="end" fill="#353535" font-weight="normal" stroke="#353535" stroke-width="0.12">0.1</text>
<line x1="55.90" y1="307.30" x2="59.00" y2="307.30" stroke="#1e1e1e" stroke-width="0.9"/>
<text x="53.60" y="309.71" font-size="6.7" text-anchor="end" fill="#353535" font-weight="normal" stroke="#353535" stroke-width="0.12">0.0</text>
<rect x="68.25" y="278.10" width="15.35" height="29.20" fill="#eea59c"/>
<rect x="88.40" y="294.40" width="16.40" height="12.90" fill="#a4b0d2"/>
<line x1="75.80" y1="268.10" x2="75.80" y2="286.50" stroke="#b80f2a" stroke-width="1.0"/>
<line x1="72.30" y1="286.50" x2="79.30" y2="286.50" stroke="#b80f2a" stroke-width="1.0"/>
<line x1="72.30" y1="268.10" x2="79.30" y2="268.10" stroke="#b80f2a" stroke-width="1.0"/>
<line x1="96.20" y1="286.50" x2="96.20" y2="300.00" stroke="#1b4782" stroke-width="1.0"/>
<line x1="92.70" y1="300.00" x2="99.70" y2="300.00" stroke="#1b4782" stroke-width="1.0"/>
<line x1="92.70" y1="286.50" x2="99.70" y2="286.50" stroke="#1b4782" stroke-width="1.0"/>
<circle cx="75.80" cy="259.60" r="1.3" fill="#b80f2a"/>
<circle cx="75.80" cy="263.00" r="1.3" fill="#b80f2a"/>
<circle cx="75.80" cy="274.40" r="1.3" fill="#b80f2a"/>
<circle cx="75.80" cy="278.80" r="1.3" fill="#b80f2a"/>
<circle cx="68.50" cy="280.90" r="1.3" fill="#b80f2a"/>
<circle cx="73.00" cy="283.30" r="1.3" fill="#b80f2a"/>
<circle cx="75.80" cy="282.50" r="1.3" fill="#b80f2a"/>
<circle cx="78.40" cy="282.30" r="1.3" fill="#b80f2a"/>
<circle cx="82.80" cy="281.10" r="1.3" fill="#b80f2a"/>
<circle cx="82.80" cy="283.80" r="1.3" fill="#b80f2a"/>
<circle cx="75.80" cy="288.80" r="1.3" fill="#b80f2a"/>
<circle cx="96.20" cy="279.10" r="1.3" fill="#1b4782"/>
<circle cx="96.20" cy="283.30" r="1.3" fill="#1b4782"/>
<circle cx="96.20" cy="291.90" r="1.3" fill="#1b4782"/>
<circle cx="89.60" cy="296.50" r="1.3" fill="#1b4782"/>
<circle cx="89.60" cy="299.90" r="1.3" fill="#1b4782"/>
<circle cx="93.50" cy="297.50" r="1.3" fill="#1b4782"/>
<circle cx="96.20" cy="297.00" r="1.3" fill="#1b4782"/>
<circle cx="99.20" cy="296.50" r="1.3" fill="#1b4782"/>
<circle cx="103.50" cy="296.50" r="1.3" fill="#1b4782"/>
<circle cx="103.50" cy="299.50" r="1.3" fill="#1b4782"/>
<circle cx="92.50" cy="300.20" r="1.3" fill="#1b4782"/>
<circle cx="99.00" cy="300.00" r="1.3" fill="#1b4782"/>
<path d="M75.30,254.80 V250.20 H96.40 V254.80" fill="none" stroke="#1e1e1e" stroke-width="0.9"/>
<circle cx="82.80" cy="248.00" r="0.95" fill="#2a2a2a"/>
<circle cx="85.85" cy="248.00" r="0.95" fill="#2a2a2a"/>
<circle cx="88.90" cy="248.00" r="0.95" fill="#2a2a2a"/>
<text transform="translate(28.30,280.30) rotate(-90)" font-size="8.2" text-anchor="middle" fill="#353535" stroke="#353535" stroke-width="0.18" textLength="59.9" lengthAdjust="spacingAndGlyphs">Nrp-1<tspan font-size="78%" dy="-2.2">+</tspan><tspan dy="2.2"> TIGIT</tspan><tspan font-size="78%" dy="-2.2">+</tspan><tspan dy="2.2"> Treg</tspan></text>
<text transform="translate(38.80,280.00) rotate(-90)" font-size="8.2" text-anchor="middle" fill="#353535" stroke="#353535" stroke-width="0.18" textLength="44.5" lengthAdjust="spacingAndGlyphs">( × 10<tspan font-size="78%" dy="-2.2">5</tspan><tspan dy="2.2">/femur)</tspan></text>
<line x1="164.20" y1="249.90" x2="164.20" y2="307.45" stroke="#1e1e1e" stroke-width="1.1"/>
<line x1="163.70" y1="306.90" x2="219.60" y2="306.90" stroke="#1e1e1e" stroke-width="1.1"/>
<line x1="161.10" y1="252.20" x2="164.20" y2="252.20" stroke="#1e1e1e" stroke-width="0.9"/>
<text x="158.80" y="254.61" font-size="6.7" text-anchor="end" fill="#353535" font-weight="normal" stroke="#353535" stroke-width="0.12">4</text>
<line x1="161.10" y1="265.88" x2="164.20" y2="265.88" stroke="#1e1e1e" stroke-width="0.9"/>
<text x="158.80" y="268.29" font-size="6.7" text-anchor="end" fill="#353535" font-weight="normal" stroke="#353535" stroke-width="0.12">3</text>
<line x1="161.10" y1="279.55" x2="164.20" y2="279.55" stroke="#1e1e1e" stroke-width="0.9"/>
<text x="158.80" y="281.96" font-size="6.7" text-anchor="end" fill="#353535" font-weight="normal" stroke="#353535" stroke-width="0.12">2</text>
<line x1="161.10" y1="293.22" x2="164.20" y2="293.22" stroke="#1e1e1e" stroke-width="0.9"/>
<text x="158.80" y="295.64" font-size="6.7" text-anchor="end" fill="#353535" font-weight="normal" stroke="#353535" stroke-width="0.12">1</text>
<line x1="161.10" y1="306.90" x2="164.20" y2="306.90" stroke="#1e1e1e" stroke-width="0.9"/>
<text x="158.80" y="309.31" font-size="6.7" text-anchor="end" fill="#353535" font-weight="normal" stroke="#353535" stroke-width="0.12">0</text>
<rect x="173.80" y="300.80" width="15.80" height="6.10" fill="#eea59c"/>
<rect x="194.40" y="276.90" width="15.90" height="30.00" fill="#a4b0d2"/>
<line x1="202.20" y1="267.80" x2="202.20" y2="286.00" stroke="#1b4782" stroke-width="1.0"/>
<line x1="198.40" y1="286.00" x2="206.00" y2="286.00" stroke="#1b4782" stroke-width="1.0"/>
<line x1="198.40" y1="267.80" x2="206.00" y2="267.80" stroke="#1b4782" stroke-width="1.0"/>
<circle cx="184.00" cy="296.20" r="1.3" fill="#b80f2a"/>
<circle cx="179.00" cy="298.00" r="1.3" fill="#b80f2a"/>
<circle cx="182.00" cy="299.00" r="1.3" fill="#b80f2a"/>
<circle cx="185.50" cy="300.00" r="1.3" fill="#b80f2a"/>
<circle cx="188.50" cy="301.00" r="1.3" fill="#b80f2a"/>
<circle cx="174.50" cy="301.50" r="1.3" fill="#b80f2a"/>
<circle cx="177.00" cy="302.00" r="1.3" fill="#b80f2a"/>
<circle cx="180.00" cy="301.00" r="1.3" fill="#b80f2a"/>
<circle cx="183.00" cy="302.50" r="1.3" fill="#b80f2a"/>
<circle cx="190.00" cy="302.00" r="1.3" fill="#b80f2a"/>
<circle cx="200.00" cy="264.40" r="1.3" fill="#1b4782"/>
<circle cx="204.50" cy="263.80" r="1.3" fill="#1b4782"/>
<circle cx="202.20" cy="271.20" r="1.3" fill="#1b4782"/>
<circle cx="198.00" cy="276.30" r="1.3" fill="#1b4782"/>
<circle cx="202.20" cy="276.30" r="1.3" fill="#1b4782"/>
<circle cx="206.70" cy="276.30" r="1.3" fill="#1b4782"/>
<circle cx="202.20" cy="278.80" r="1.3" fill="#1b4782"/>
<circle cx="199.50" cy="284.20" r="1.3" fill="#1b4782"/>
<circle cx="202.20" cy="285.50" r="1.3" fill="#1b4782"/>
<circle cx="205.30" cy="284.80" r="1.3" fill="#1b4782"/>
<circle cx="202.20" cy="288.50" r="1.3" fill="#1b4782"/>
<path d="M181.50,258.50 V253.80 H201.80 V258.50" fill="none" stroke="#1e1e1e" stroke-width="0.9"/>
<circle cx="187.08" cy="251.50" r="0.95" fill="#2a2a2a"/>
<circle cx="190.12" cy="251.50" r="0.95" fill="#2a2a2a"/>
<circle cx="193.18" cy="251.50" r="0.95" fill="#2a2a2a"/>
<circle cx="196.22" cy="251.50" r="0.95" fill="#2a2a2a"/>
<text transform="translate(139.80,278.50) rotate(-90)" font-size="8.2" text-anchor="middle" fill="#353535" stroke="#353535" stroke-width="0.18" textLength="57.3" lengthAdjust="spacingAndGlyphs">Nrp-1<tspan font-size="78%" dy="-2.2">+</tspan><tspan dy="2.2"> TIGIT</tspan><tspan font-size="78%" dy="-2.2">+</tspan><tspan dy="2.2"> Treg</tspan></text>
<text transform="translate(149.50,278.80) rotate(-90)" font-size="8.2" text-anchor="middle" fill="#353535" stroke="#353535" stroke-width="0.18" textLength="32.1" lengthAdjust="spacingAndGlyphs">(×10<tspan font-size="78%" dy="-2.2">4</tspan><tspan dy="2.2">/ml)</tspan></text>
<line x1="275.40" y1="249.90" x2="275.40" y2="307.45" stroke="#1e1e1e" stroke-width="1.1"/>
<line x1="274.90" y1="306.90" x2="330.60" y2="306.90" stroke="#1e1e1e" stroke-width="1.1"/>
<line x1="272.30" y1="252.20" x2="275.40" y2="252.20" stroke="#1e1e1e" stroke-width="0.9"/>
<text x="270.00" y="254.61" font-size="6.7" text-anchor="end" fill="#353535" font-weight="normal" stroke="#353535" stroke-width="0.12">1.5</text>
<line x1="272.30" y1="270.43" x2="275.40" y2="270.43" stroke="#1e1e1e" stroke-width="0.9"/>
<text x="270.00" y="272.85" font-size="6.7" text-anchor="end" fill="#353535" font-weight="normal" stroke="#353535" stroke-width="0.12">1.0</text>
<line x1="272.30" y1="288.67" x2="275.40" y2="288.67" stroke="#1e1e1e" stroke-width="0.9"/>
<text x="270.00" y="291.08" font-size="6.7" text-anchor="end" fill="#353535" font-weight="normal" stroke="#353535" stroke-width="0.12">0.5</text>
<line x1="272.30" y1="306.90" x2="275.40" y2="306.90" stroke="#1e1e1e" stroke-width="0.9"/>
<text x="270.00" y="309.31" font-size="6.7" text-anchor="end" fill="#353535" font-weight="normal" stroke="#353535" stroke-width="0.12">0.0</text>
<rect x="284.80" y="280.60" width="15.90" height="26.30" fill="#eea59c"/>
<rect x="305.50" y="292.30" width="15.80" height="14.60" fill="#a4b0d2"/>
<line x1="292.50" y1="273.80" x2="292.50" y2="285.00" stroke="#b80f2a" stroke-width="1.0"/>
<line x1="289.00" y1="285.00" x2="296.00" y2="285.00" stroke="#b80f2a" stroke-width="1.0"/>
<line x1="289.00" y1="273.80" x2="296.00" y2="273.80" stroke="#b80f2a" stroke-width="1.0"/>
<line x1="313.50" y1="289.00" x2="313.50" y2="297.00" stroke="#1b4782" stroke-width="1.0"/>
<line x1="310.00" y1="297.00" x2="317.00" y2="297.00" stroke="#1b4782" stroke-width="1.0"/>
<line x1="310.00" y1="289.00" x2="317.00" y2="289.00" stroke="#1b4782" stroke-width="1.0"/>
<circle cx="295.00" cy="270.80" r="1.3" fill="#b80f2a"/>
<circle cx="290.30" cy="272.80" r="1.3" fill="#b80f2a"/>
<circle cx="292.50" cy="276.50" r="1.3" fill="#b80f2a"/>
<circle cx="295.00" cy="279.00" r="1.3" fill="#b80f2a"/>
<circle cx="285.50" cy="281.50" r="1.3" fill="#b80f2a"/>
<circle cx="290.00" cy="281.00" r="1.3" fill="#b80f2a"/>
<circle cx="290.00" cy="284.30" r="1.3" fill="#b80f2a"/>
<circle cx="295.00" cy="283.00" r="1.3" fill="#b80f2a"/>
<circle cx="299.80" cy="283.30" r="1.3" fill="#b80f2a"/>
<circle cx="292.50" cy="289.00" r="1.3" fill="#b80f2a"/>
<circle cx="313.50" cy="283.00" r="1.3" fill="#1b4782"/>
<circle cx="306.50" cy="294.00" r="1.3" fill="#1b4782"/>
<circle cx="310.00" cy="294.50" r="1.3" fill="#1b4782"/>
<circle cx="313.00" cy="295.00" r="1.3" fill="#1b4782"/>
<circle cx="316.50" cy="293.50" r="1.3" fill="#1b4782"/>
<circle cx="318.50" cy="292.00" r="1.3" fill="#1b4782"/>
<circle cx="321.00" cy="295.00" r="1.3" fill="#1b4782"/>
<circle cx="313.00" cy="298.30" r="1.3" fill="#1b4782"/>
<circle cx="309.00" cy="296.50" r="1.3" fill="#1b4782"/>
<path d="M292.70,266.50 V261.50 H313.50 V266.50" fill="none" stroke="#1e1e1e" stroke-width="0.9"/>
<circle cx="298.53" cy="259.20" r="0.95" fill="#2a2a2a"/>
<circle cx="301.58" cy="259.20" r="0.95" fill="#2a2a2a"/>
<circle cx="304.62" cy="259.20" r="0.95" fill="#2a2a2a"/>
<circle cx="307.68" cy="259.20" r="0.95" fill="#2a2a2a"/>
<text transform="translate(245.80,278.50) rotate(-90)" font-size="8.2" text-anchor="middle" fill="#353535" stroke="#353535" stroke-width="0.18" textLength="60.5" lengthAdjust="spacingAndGlyphs">TIGIT<tspan font-size="78%" dy="-2.2">+</tspan><tspan dy="2.2"> KLRG-1</tspan><tspan font-size="78%" dy="-2.2">+</tspan><tspan dy="2.2"> Treg</tspan></text>
<text transform="translate(256.30,278.50) rotate(-90)" font-size="8.2" text-anchor="middle" fill="#353535" stroke="#353535" stroke-width="0.18" textLength="42.3" lengthAdjust="spacingAndGlyphs">( × 10<tspan font-size="78%" dy="-2.2">4</tspan><tspan dy="2.2">/femur)</tspan></text>
<line x1="388.40" y1="250.40" x2="388.40" y2="307.45" stroke="#1e1e1e" stroke-width="1.1"/>
<line x1="387.90" y1="306.90" x2="442.80" y2="306.90" stroke="#1e1e1e" stroke-width="1.1"/>
<line x1="385.30" y1="252.70" x2="388.40" y2="252.70" stroke="#1e1e1e" stroke-width="0.9"/>
<text x="383.00" y="255.11" font-size="6.7" text-anchor="end" fill="#353535" font-weight="normal" stroke="#353535" stroke-width="0.12">2.0</text>
<line x1="385.30" y1="266.25" x2="388.40" y2="266.25" stroke="#1e1e1e" stroke-width="0.9"/>
<text x="383.00" y="268.66" font-size="6.7" text-anchor="end" fill="#353535" font-weight="normal" stroke="#353535" stroke-width="0.12">1.5</text>
<line x1="385.30" y1="279.80" x2="388.40" y2="279.80" stroke="#1e1e1e" stroke-width="0.9"/>
<text x="383.00" y="282.21" font-size="6.7" text-anchor="end" fill="#353535" font-weight="normal" stroke="#353535" stroke-width="0.12">1.0</text>
<line x1="385.30" y1="293.35" x2="388.40" y2="293.35" stroke="#1e1e1e" stroke-width="0.9"/>
<text x="383.00" y="295.76" font-size="6.7" text-anchor="end" fill="#353535" font-weight="normal" stroke="#353535" stroke-width="0.12">0.5</text>
<line x1="385.30" y1="306.90" x2="388.40" y2="306.90" stroke="#1e1e1e" stroke-width="0.9"/>
<text x="383.00" y="309.31" font-size="6.7" text-anchor="end" fill="#353535" font-weight="normal" stroke="#353535" stroke-width="0.12">0.0</text>
<rect x="396.30" y="300.20" width="16.40" height="6.70" fill="#eea59c"/>
<rect x="417.80" y="277.40" width="15.50" height="29.50" fill="#a4b0d2"/>
<line x1="425.50" y1="268.00" x2="425.50" y2="285.00" stroke="#1b4782" stroke-width="1.0"/>
<line x1="422.00" y1="285.00" x2="429.00" y2="285.00" stroke="#1b4782" stroke-width="1.0"/>
<line x1="422.00" y1="268.00" x2="429.00" y2="268.00" stroke="#1b4782" stroke-width="1.0"/>
<circle cx="397.00" cy="302.00" r="1.3" fill="#b80f2a"/>
<circle cx="399.50" cy="301.00" r="1.3" fill="#b80f2a"/>
<circle cx="402.00" cy="300.50" r="1.3" fill="#b80f2a"/>
<circle cx="404.50" cy="301.50" r="1.3" fill="#b80f2a"/>
<circle cx="407.00" cy="300.50" r="1.3" fill="#b80f2a"/>
<circle cx="409.50" cy="302.00" r="1.3" fill="#b80f2a"/>
<circle cx="411.50" cy="301.50" r="1.3" fill="#b80f2a"/>
<circle cx="400.50" cy="302.50" r="1.3" fill="#b80f2a"/>
<circle cx="406.00" cy="302.20" r="1.3" fill="#b80f2a"/>
<circle cx="423.30" cy="266.50" r="1.3" fill="#1b4782"/>
<circle cx="428.00" cy="266.00" r="1.3" fill="#1b4782"/>
<circle cx="425.50" cy="270.00" r="1.3" fill="#1b4782"/>
<circle cx="428.00" cy="273.00" r="1.3" fill="#1b4782"/>
<circle cx="423.30" cy="275.00" r="1.3" fill="#1b4782"/>
<circle cx="425.50" cy="278.00" r="1.3" fill="#1b4782"/>
<circle cx="423.30" cy="283.00" r="1.3" fill="#1b4782"/>
<circle cx="428.00" cy="282.50" r="1.3" fill="#1b4782"/>
<circle cx="428.00" cy="285.50" r="1.3" fill="#1b4782"/>
<circle cx="425.50" cy="289.20" r="1.3" fill="#1b4782"/>
<path d="M404.50,262.40 V257.80 H425.30 V262.40" fill="none" stroke="#1e1e1e" stroke-width="0.9"/>
<circle cx="410.32" cy="254.50" r="0.95" fill="#2a2a2a"/>
<circle cx="413.38" cy="254.50" r="0.95" fill="#2a2a2a"/>
<circle cx="416.42" cy="254.50" r="0.95" fill="#2a2a2a"/>
<circle cx="419.47" cy="254.50" r="0.95" fill="#2a2a2a"/>
<text transform="translate(356.40,278.50) rotate(-90)" font-size="8.2" text-anchor="middle" fill="#353535" stroke="#353535" stroke-width="0.18" textLength="60.5" lengthAdjust="spacingAndGlyphs">TIGIT<tspan font-size="78%" dy="-2.2">+</tspan><tspan dy="2.2"> KLRG-1</tspan><tspan font-size="78%" dy="-2.2">+</tspan><tspan dy="2.2"> Treg</tspan></text>
<text transform="translate(366.60,278.80) rotate(-90)" font-size="8.2" text-anchor="middle" fill="#353535" stroke="#353535" stroke-width="0.18" textLength="32.1" lengthAdjust="spacingAndGlyphs">(×10<tspan font-size="78%" dy="-2.2">3</tspan><tspan dy="2.2">/ml)</tspan></text>
<rect x="387.90" y="316.10" width="1.6" height="1.6" fill="#b80f2a"/>
<rect x="387.90" y="323.80" width="1.6" height="1.6" fill="#1b4782"/>
<text x="392.30" y="319.30" font-size="6.9" text-anchor="start" fill="#333" font-weight="normal" >Non-mobilized</text>
<text x="392.30" y="327.00" font-size="6.9" text-anchor="start" fill="#333" font-weight="normal" >Mobilized</text>
<line x1="42.60" y1="578.20" x2="42.60" y2="634.75" stroke="#1e1e1e" stroke-width="1.1"/>
<line x1="42.10" y1="634.20" x2="96.20" y2="634.20" stroke="#1e1e1e" stroke-width="1.1"/>
<line x1="39.50" y1="580.50" x2="42.60" y2="580.50" stroke="#1e1e1e" stroke-width="0.9"/>
<text x="37.20" y="582.91" font-size="6.7" text-anchor="end" fill="#353535" font-weight="normal" stroke="#353535" stroke-width="0.12">30</text>
<line x1="39.50" y1="598.40" x2="42.60" y2="598.40" stroke="#1e1e1e" stroke-width="0.9"/>
<text x="37.20" y="600.81" font-size="6.7" text-anchor="end" fill="#353535" font-weight="normal" stroke="#353535" stroke-width="0.12">20</text>
<line x1="39.50" y1="616.30" x2="42.60" y2="616.30" stroke="#1e1e1e" stroke-width="0.9"/>
<text x="37.20" y="618.71" font-size="6.7" text-anchor="end" fill="#353535" font-weight="normal" stroke="#353535" stroke-width="0.12">10</text>
<line x1="39.50" y1="634.20" x2="42.60" y2="634.20" stroke="#1e1e1e" stroke-width="0.9"/>
<text x="37.20" y="636.61" font-size="6.7" text-anchor="end" fill="#353535" font-weight="normal" stroke="#353535" stroke-width="0.12">0</text>
<rect x="51.20" y="615.40" width="15.80" height="18.80" fill="#eea59c"/>
<rect x="71.30" y="616.20" width="15.80" height="18.00" fill="#a4b0d2"/>
<line x1="58.90" y1="612.40" x2="58.90" y2="619.00" stroke="#b80f2a" stroke-width="1.0"/>
<line x1="54.90" y1="619.00" x2="62.90" y2="619.00" stroke="#b80f2a" stroke-width="1.0"/>
<line x1="54.90" y1="612.40" x2="62.90" y2="612.40" stroke="#b80f2a" stroke-width="1.0"/>
<line x1="79.30" y1="615.50" x2="79.30" y2="618.50" stroke="#1b4782" stroke-width="1.0"/>
<line x1="75.30" y1="618.50" x2="83.30" y2="618.50" stroke="#1b4782" stroke-width="1.0"/>
<line x1="75.30" y1="615.50" x2="83.30" y2="615.50" stroke="#1b4782" stroke-width="1.0"/>
<circle cx="58.90" cy="598.20" r="1.3" fill="#b80f2a"/>
<circle cx="58.90" cy="602.00" r="1.3" fill="#b80f2a"/>
<circle cx="58.90" cy="610.20" r="1.3" fill="#b80f2a"/>
<circle cx="51.70" cy="618.50" r="1.3" fill="#b80f2a"/>
<circle cx="51.70" cy="621.00" r="1.3" fill="#b80f2a"/>
<circle cx="56.50" cy="618.50" r="1.3" fill="#b80f2a"/>
<circle cx="61.00" cy="618.50" r="1.3" fill="#b80f2a"/>
<circle cx="61.00" cy="620.80" r="1.3" fill="#b80f2a"/>
<circle cx="65.70" cy="618.50" r="1.3" fill="#b80f2a"/>
<circle cx="65.70" cy="621.00" r="1.3" fill="#b80f2a"/>
<circle cx="79.30" cy="612.80" r="1.3" fill="#1b4782"/>
<circle cx="72.50" cy="617.00" r="1.3" fill="#1b4782"/>
<circle cx="75.50" cy="617.50" r="1.3" fill="#1b4782"/>
<circle cx="78.00" cy="618.50" r="1.3" fill="#1b4782"/>
<circle cx="80.50" cy="617.50" r="1.3" fill="#1b4782"/>
<circle cx="84.50" cy="617.00" r="1.3" fill="#1b4782"/>
<circle cx="86.50" cy="617.50" r="1.3" fill="#1b4782"/>
<circle cx="77.50" cy="620.00" r="1.3" fill="#1b4782"/>
<text transform="translate(23.20,606.70) rotate(-90)" font-size="8.2" text-anchor="middle" fill="#353535" stroke="#353535" stroke-width="0.18" textLength="59.6" lengthAdjust="spacingAndGlyphs">CD8 T cell/Treg ratio</text>
<line x1="140.40" y1="578.10" x2="140.40" y2="634.75" stroke="#1e1e1e" stroke-width="1.1"/>
<line x1="139.90" y1="634.20" x2="194.20" y2="634.20" stroke="#1e1e1e" stroke-width="1.1"/>
<line x1="137.30" y1="580.40" x2="140.40" y2="580.40" stroke="#1e1e1e" stroke-width="0.9"/>
<text x="135.00" y="582.81" font-size="6.7" text-anchor="end" fill="#353535" font-weight="normal" stroke="#353535" stroke-width="0.12">400</text>
<line x1="137.30" y1="593.85" x2="140.40" y2="593.85" stroke="#1e1e1e" stroke-width="0.9"/>
<text x="135.00" y="596.26" font-size="6.7" text-anchor="end" fill="#353535" font-weight="normal" stroke="#353535" stroke-width="0.12">300</text>
<line x1="137.30" y1="607.30" x2="140.40" y2="607.30" stroke="#1e1e1e" stroke-width="0.9"/>
<text x="135.00" y="609.71" font-size="6.7" text-anchor="end" fill="#353535" font-weight="normal" stroke="#353535" stroke-width="0.12">200</text>
<line x1="137.30" y1="620.75" x2="140.40" y2="620.75" stroke="#1e1e1e" stroke-width="0.9"/>
<text x="135.00" y="623.16" font-size="6.7" text-anchor="end" fill="#353535" font-weight="normal" stroke="#353535" stroke-width="0.12">100</text>
<line x1="137.30" y1="634.20" x2="140.40" y2="634.20" stroke="#1e1e1e" stroke-width="0.9"/>
<text x="135.00" y="636.61" font-size="6.7" text-anchor="end" fill="#353535" font-weight="normal" stroke="#353535" stroke-width="0.12">0</text>
<rect x="149.40" y="603.20" width="15.40" height="31.00" fill="#eea59c"/>
<rect x="169.90" y="620.50" width="15.00" height="13.70" fill="#a4b0d2"/>
<line x1="157.00" y1="600.20" x2="157.00" y2="607.00" stroke="#b80f2a" stroke-width="1.0"/>
<line x1="153.00" y1="607.00" x2="161.00" y2="607.00" stroke="#b80f2a" stroke-width="1.0"/>
<line x1="153.00" y1="600.20" x2="161.00" y2="600.20" stroke="#b80f2a" stroke-width="1.0"/>
<line x1="177.50" y1="617.00" x2="177.50" y2="622.00" stroke="#1b4782" stroke-width="1.0"/>
<line x1="173.50" y1="622.00" x2="181.50" y2="622.00" stroke="#1b4782" stroke-width="1.0"/>
<line x1="173.50" y1="617.00" x2="181.50" y2="617.00" stroke="#1b4782" stroke-width="1.0"/>
<circle cx="157.00" cy="593.10" r="1.3" fill="#b80f2a"/>
<circle cx="152.80" cy="597.70" r="1.3" fill="#b80f2a"/>
<circle cx="157.00" cy="597.50" r="1.3" fill="#b80f2a"/>
<circle cx="161.30" cy="598.80" r="1.3" fill="#b80f2a"/>
<circle cx="157.00" cy="600.50" r="1.3" fill="#b80f2a"/>
<circle cx="152.80" cy="603.60" r="1.3" fill="#b80f2a"/>
<circle cx="157.00" cy="603.00" r="1.3" fill="#b80f2a"/>
<circle cx="161.30" cy="605.50" r="1.3" fill="#b80f2a"/>
<circle cx="157.00" cy="610.20" r="1.3" fill="#b80f2a"/>
<circle cx="157.00" cy="614.20" r="1.3" fill="#b80f2a"/>
<circle cx="175.00" cy="613.80" r="1.3" fill="#1b4782"/>
<circle cx="170.50" cy="619.50" r="1.3" fill="#1b4782"/>
<circle cx="175.00" cy="618.50" r="1.3" fill="#1b4782"/>
<circle cx="179.50" cy="617.50" r="1.3" fill="#1b4782"/>
<circle cx="184.50" cy="615.50" r="1.3" fill="#1b4782"/>
<circle cx="175.00" cy="621.50" r="1.3" fill="#1b4782"/>
<circle cx="179.50" cy="620.50" r="1.3" fill="#1b4782"/>
<circle cx="184.50" cy="621.00" r="1.3" fill="#1b4782"/>
<circle cx="177.50" cy="623.80" r="1.3" fill="#1b4782"/>
<path d="M156.50,589.00 V583.10 H177.50 V589.00" fill="none" stroke="#1e1e1e" stroke-width="0.9"/>
<circle cx="162.43" cy="580.40" r="0.95" fill="#2a2a2a"/>
<circle cx="165.47" cy="580.40" r="0.95" fill="#2a2a2a"/>
<circle cx="168.53" cy="580.40" r="0.95" fill="#2a2a2a"/>
<circle cx="171.57" cy="580.40" r="0.95" fill="#2a2a2a"/>
<text transform="translate(120.40,606.40) rotate(-90)" font-size="8.2" text-anchor="middle" fill="#353535" stroke="#353535" stroke-width="0.18" textLength="81.8" lengthAdjust="spacingAndGlyphs">CD8 T cell/Treg (Pop3) ratio</text>
<rect x="178.60" y="565.30" width="1.6" height="1.6" fill="#b80f2a"/>
<rect x="178.60" y="573.40" width="1.6" height="1.6" fill="#1b4782"/>
<text x="183.00" y="568.50" font-size="6.9" text-anchor="start" fill="#333" font-weight="normal" >Non-mobilized</text>
<text x="183.00" y="576.60" font-size="6.9" text-anchor="start" fill="#333" font-weight="normal" >Mobilized</text>
<rect x="25.50" y="383.00" width="8.46" height="18.45" fill="#f1905a"/>
<rect x="33.91" y="383.00" width="8.46" height="18.45" fill="#fdf3cc"/>
<rect x="42.31" y="383.00" width="8.46" height="18.45" fill="#f4f2da"/>
<rect x="50.72" y="383.00" width="8.46" height="18.45" fill="#e2eff5"/>
<rect x="59.13" y="383.00" width="8.46" height="18.45" fill="#d3e7f2"/>
<rect x="67.54" y="383.00" width="8.46" height="18.45" fill="#e6f1f4"/>
<rect x="75.94" y="383.00" width="8.46" height="18.45" fill="#a2cee5"/>
<rect x="84.35" y="383.00" width="8.46" height="18.45" fill="#a6d0e6"/>
<rect x="92.76" y="383.00" width="8.46" height="18.45" fill="#84bddd"/>
<rect x="101.16" y="383.00" width="8.46" height="18.45" fill="#8ec3df"/>
<rect x="109.57" y="383.00" width="8.46" height="18.45" fill="#2180be"/>
<rect x="117.98" y="383.00" width="8.46" height="18.45" fill="#93c7e1"/>
<rect x="126.39" y="383.00" width="8.46" height="18.45" fill="#aad4e9"/>
<rect x="134.79" y="383.00" width="8.46" height="18.45" fill="#68aed5"/>
<rect x="25.50" y="401.40" width="8.46" height="18.45" fill="#ef7e4f"/>
<rect x="33.91" y="401.40" width="8.46" height="18.45" fill="#f5aa78"/>
<rect x="42.31" y="401.40" width="8.46" height="18.45" fill="#f4a272"/>
<rect x="50.72" y="401.40" width="8.46" height="18.45" fill="#fcdca5"/>
<rect x="59.13" y="401.40" width="8.46" height="18.45" fill="#f8f0d0"/>
<rect x="67.54" y="401.40" width="8.46" height="18.45" fill="#92c5e0"/>
<rect x="75.94" y="401.40" width="8.46" height="18.45" fill="#9ccbe3"/>
<rect x="84.35" y="401.40" width="8.46" height="18.45" fill="#d0e6f0"/>
<rect x="92.76" y="401.40" width="8.46" height="18.45" fill="#8cc3df"/>
<rect x="101.16" y="401.40" width="8.46" height="18.45" fill="#88c0de"/>
<rect x="109.57" y="401.40" width="8.46" height="18.45" fill="#3b8fc8"/>
<rect x="117.98" y="401.40" width="8.46" height="18.45" fill="#fdf3cc"/>
<rect x="126.39" y="401.40" width="8.46" height="18.45" fill="#f9f2d8"/>
<rect x="134.79" y="401.40" width="8.46" height="18.45" fill="#74b4d8"/>
<rect x="25.50" y="419.80" width="8.46" height="18.45" fill="#e2533a"/>
<rect x="33.91" y="419.80" width="8.46" height="18.45" fill="#fdd8a0"/>
<rect x="42.31" y="419.80" width="8.46" height="18.45" fill="#f08a5e"/>
<rect x="50.72" y="419.80" width="8.46" height="18.45" fill="#ee754f"/>
<rect x="59.13" y="419.80" width="8.46" height="18.45" fill="#e8623f"/>
<rect x="67.54" y="419.80" width="8.46" height="18.45" fill="#cfe5f0"/>
<rect x="75.94" y="419.80" width="8.46" height="18.45" fill="#e6f0f3"/>
<rect x="84.35" y="419.80" width="8.46" height="18.45" fill="#ecf4f2"/>
<rect x="92.76" y="419.80" width="8.46" height="18.45" fill="#5aa6d1"/>
<rect x="101.16" y="419.80" width="8.46" height="18.45" fill="#6bb0d6"/>
<rect x="109.57" y="419.80" width="8.46" height="18.45" fill="#e8321f"/>
<rect x="117.98" y="419.80" width="8.46" height="18.45" fill="#fdf0c8"/>
<rect x="126.39" y="419.80" width="8.46" height="18.45" fill="#fee0a2"/>
<rect x="134.79" y="419.80" width="8.46" height="18.45" fill="#fed9a0"/>
<rect x="25.50" y="438.20" width="8.46" height="18.45" fill="#ec6a45"/>
<rect x="33.91" y="438.20" width="8.46" height="18.45" fill="#fdd49a"/>
<rect x="42.31" y="438.20" width="8.46" height="18.45" fill="#f0905f"/>
<rect x="50.72" y="438.20" width="8.46" height="18.45" fill="#f3a06e"/>
<rect x="59.13" y="438.20" width="8.46" height="18.45" fill="#fdebb3"/>
<rect x="67.54" y="438.20" width="8.46" height="18.45" fill="#fde4a6"/>
<rect x="75.94" y="438.20" width="8.46" height="18.45" fill="#a9d3e8"/>
<rect x="84.35" y="438.20" width="8.46" height="18.45" fill="#a8d2e7"/>
<rect x="92.76" y="438.20" width="8.46" height="18.45" fill="#9ccbe3"/>
<rect x="101.16" y="438.20" width="8.46" height="18.45" fill="#7ebbdc"/>
<rect x="109.57" y="438.20" width="8.46" height="18.45" fill="#70b3d8"/>
<rect x="117.98" y="438.20" width="8.46" height="18.45" fill="#dfeef5"/>
<rect x="126.39" y="438.20" width="8.46" height="18.45" fill="#fdd59b"/>
<rect x="134.79" y="438.20" width="8.46" height="18.45" fill="#fcc68e"/>
<rect x="25.50" y="456.60" width="8.46" height="18.45" fill="#e5583b"/>
<rect x="33.91" y="456.60" width="8.46" height="18.45" fill="#e8f4f0"/>
<rect x="42.31" y="456.60" width="8.46" height="18.45" fill="#aad3e6"/>
<rect x="50.72" y="456.60" width="8.46" height="18.45" fill="#e03a25"/>
<rect x="59.13" y="456.60" width="8.46" height="18.45" fill="#fde8ae"/>
<rect x="67.54" y="456.60" width="8.46" height="18.45" fill="#cfe5f2"/>
<rect x="75.94" y="456.60" width="8.46" height="18.45" fill="#9ccbe3"/>
<rect x="84.35" y="456.60" width="8.46" height="18.45" fill="#e2f0f5"/>
<rect x="92.76" y="456.60" width="8.46" height="18.45" fill="#b0d6ea"/>
<rect x="101.16" y="456.60" width="8.46" height="18.45" fill="#4f9dcc"/>
<rect x="109.57" y="456.60" width="8.46" height="18.45" fill="#fef4d0"/>
<rect x="117.98" y="456.60" width="8.46" height="18.45" fill="#fddca5"/>
<rect x="126.39" y="456.60" width="8.46" height="18.45" fill="#f08a5a"/>
<rect x="134.79" y="456.60" width="8.46" height="18.45" fill="#fbc58c"/>
<line x1="33.91" y1="383.0" x2="33.91" y2="475.0" stroke="#fff" stroke-width="0.25" opacity="0.5"/>
<line x1="42.31" y1="383.0" x2="42.31" y2="475.0" stroke="#fff" stroke-width="0.25" opacity="0.5"/>
<line x1="50.72" y1="383.0" x2="50.72" y2="475.0" stroke="#fff" stroke-width="0.25" opacity="0.5"/>
<line x1="59.13" y1="383.0" x2="59.13" y2="475.0" stroke="#fff" stroke-width="0.25" opacity="0.5"/>
<line x1="67.54" y1="383.0" x2="67.54" y2="475.0" stroke="#fff" stroke-width="0.25" opacity="0.5"/>
<line x1="75.94" y1="383.0" x2="75.94" y2="475.0" stroke="#fff" stroke-width="0.25" opacity="0.5"/>
<line x1="84.35" y1="383.0" x2="84.35" y2="475.0" stroke="#fff" stroke-width="0.25" opacity="0.5"/>
<line x1="92.76" y1="383.0" x2="92.76" y2="475.0" stroke="#fff" stroke-width="0.25" opacity="0.5"/>
<line x1="101.16" y1="383.0" x2="101.16" y2="475.0" stroke="#fff" stroke-width="0.25" opacity="0.5"/>
<line x1="109.57" y1="383.0" x2="109.57" y2="475.0" stroke="#fff" stroke-width="0.25" opacity="0.5"/>
<line x1="117.98" y1="383.0" x2="117.98" y2="475.0" stroke="#fff" stroke-width="0.25" opacity="0.5"/>
<line x1="126.39" y1="383.0" x2="126.39" y2="475.0" stroke="#fff" stroke-width="0.25" opacity="0.5"/>
<line x1="134.79" y1="383.0" x2="134.79" y2="475.0" stroke="#fff" stroke-width="0.25" opacity="0.5"/>
<line x1="25.5" y1="401.40" x2="143.2" y2="401.40" stroke="#fff" stroke-width="0.25" opacity="0.5"/>
<line x1="25.5" y1="419.80" x2="143.2" y2="419.80" stroke="#fff" stroke-width="0.25" opacity="0.5"/>
<line x1="25.5" y1="438.20" x2="143.2" y2="438.20" stroke="#fff" stroke-width="0.25" opacity="0.5"/>
<line x1="25.5" y1="456.60" x2="143.2" y2="456.60" stroke="#fff" stroke-width="0.25" opacity="0.5"/>
<path d="M38.11,383.00 V379.40 H46.52 V383.00" fill="none" stroke="#5a5a5a" stroke-width="0.7"/>
<path d="M54.92,383.00 V377.50 H63.33 V383.00" fill="none" stroke="#5a5a5a" stroke-width="0.7"/>
<path d="M42.31,379.40 V375.20 H59.13 V377.50" fill="none" stroke="#5a5a5a" stroke-width="0.7"/>
<path d="M29.70,383.00 V374.40 H50.72 V375.20" fill="none" stroke="#5a5a5a" stroke-width="0.7"/>
<path d="M80.15,383.00 V381.20 H88.55 V383.00" fill="none" stroke="#5a5a5a" stroke-width="0.7"/>
<path d="M96.96,383.00 V381.20 H105.37 V383.00" fill="none" stroke="#5a5a5a" stroke-width="0.7"/>
<path d="M84.35,381.20 V378.10 H101.16 V381.20" fill="none" stroke="#5a5a5a" stroke-width="0.7"/>
<path d="M71.74,383.00 V376.50 H92.76 V378.10" fill="none" stroke="#5a5a5a" stroke-width="0.7"/>
<path d="M130.59,383.00 V379.40 H139.00 V383.00" fill="none" stroke="#5a5a5a" stroke-width="0.7"/>
<path d="M122.18,383.00 V377.20 H134.79 V379.40" fill="none" stroke="#5a5a5a" stroke-width="0.7"/>
<path d="M113.77,383.00 V373.50 H128.49 V377.20" fill="none" stroke="#5a5a5a" stroke-width="0.7"/>
<path d="M82.25,376.50 V371.20 H121.13 V373.50" fill="none" stroke="#5a5a5a" stroke-width="0.7"/>
<path d="M40.21,374.40 V365.00 H101.69 V371.20" fill="none" stroke="#5a5a5a" stroke-width="0.7"/>
<path d="M25.50,392.20 H18.70 V410.60 H25.50" fill="none" stroke="#5a5a5a" stroke-width="0.7"/>
<path d="M25.50,447.40 H15.60 V465.80 H25.50" fill="none" stroke="#5a5a5a" stroke-width="0.7"/>
<path d="M25.50,429.00 H14.50 V456.60 H15.60" fill="none" stroke="#5a5a5a" stroke-width="0.7"/>
<path d="M18.70,401.40 H9.50 V442.80 H14.50" fill="none" stroke="#5a5a5a" stroke-width="0.7"/>
<text x="146.40" y="394.90" font-size="7.2" text-anchor="start" fill="#333" font-weight="normal" >Pop0</text>
<text x="146.40" y="413.30" font-size="7.2" text-anchor="start" fill="#333" font-weight="normal" >Pop2</text>
<text x="146.40" y="431.70" font-size="7.2" text-anchor="start" fill="#333" font-weight="normal" >Pop3</text>
<text x="146.40" y="450.10" font-size="7.2" text-anchor="start" fill="#333" font-weight="normal" >Pop1</text>
<text x="146.40" y="468.50" font-size="7.2" text-anchor="start" fill="#333" font-weight="normal" >Pop4</text>
<text transform="translate(31.90,478.20) rotate(-90)" font-size="6.2" text-anchor="end" fill="#333">Foxp3</text>
<text transform="translate(40.31,478.20) rotate(-90)" font-size="6.2" text-anchor="end" fill="#333">CD73</text>
<text transform="translate(48.72,478.20) rotate(-90)" font-size="6.2" text-anchor="end" fill="#333">Nrp-1</text>
<text transform="translate(57.12,478.20) rotate(-90)" font-size="6.2" text-anchor="end" fill="#333">CD44</text>
<text transform="translate(65.53,478.20) rotate(-90)" font-size="6.2" text-anchor="end" fill="#333">DNAM-1</text>
<text transform="translate(73.94,478.20) rotate(-90)" font-size="6.2" text-anchor="end" fill="#333">CD62L</text>
<text transform="translate(82.35,478.20) rotate(-90)" font-size="6.2" text-anchor="end" fill="#333">PD-1</text>
<text transform="translate(90.75,478.20) rotate(-90)" font-size="6.2" text-anchor="end" fill="#333">CD25</text>
<text transform="translate(99.16,478.20) rotate(-90)" font-size="6.2" text-anchor="end" fill="#333">LAG-3</text>
<text transform="translate(107.57,478.20) rotate(-90)" font-size="6.2" text-anchor="end" fill="#333">CD69</text>
<text transform="translate(115.97,478.20) rotate(-90)" font-size="6.2" text-anchor="end" fill="#333">KLRG-1</text>
<text transform="translate(124.38,478.20) rotate(-90)" font-size="6.2" text-anchor="end" fill="#333">CD39</text>
<text transform="translate(132.79,478.20) rotate(-90)" font-size="6.2" text-anchor="end" fill="#333">CTLA-4</text>
<text transform="translate(141.20,478.20) rotate(-90)" font-size="6.2" text-anchor="end" fill="#333">TIGIT</text>
<rect x="164.9" y="383.3" width="3.7" height="60.7" fill="url(#cbar)"/>
<text x="170.40" y="394.60" font-size="6.4" text-anchor="start" fill="#444" font-weight="normal" >700</text>
<text x="170.40" y="405.45" font-size="6.4" text-anchor="start" fill="#444" font-weight="normal" >600</text>
<text x="170.40" y="416.30" font-size="6.4" text-anchor="start" fill="#444" font-weight="normal" >500</text>
<text x="170.40" y="427.15" font-size="6.4" text-anchor="start" fill="#444" font-weight="normal" >400</text>
<text x="170.40" y="438.00" font-size="6.4" text-anchor="start" fill="#444" font-weight="normal" >300</text>
<line x1="215.30" y1="358.20" x2="215.30" y2="424.45" stroke="#1e1e1e" stroke-width="1.1"/>
<line x1="214.80" y1="423.90" x2="247.00" y2="423.90" stroke="#1e1e1e" stroke-width="1.1"/>
<line x1="212.20" y1="360.50" x2="215.30" y2="360.50" stroke="#1e1e1e" stroke-width="0.9"/>
<text x="209.90" y="362.91" font-size="6.7" text-anchor="end" fill="#353535" font-weight="normal" stroke="#353535" stroke-width="0.12">80</text>
<line x1="212.20" y1="376.35" x2="215.30" y2="376.35" stroke="#1e1e1e" stroke-width="0.9"/>
<text x="209.90" y="378.76" font-size="6.7" text-anchor="end" fill="#353535" font-weight="normal" stroke="#353535" stroke-width="0.12">60</text>
<line x1="212.20" y1="392.20" x2="215.30" y2="392.20" stroke="#1e1e1e" stroke-width="0.9"/>
<text x="209.90" y="394.61" font-size="6.7" text-anchor="end" fill="#353535" font-weight="normal" stroke="#353535" stroke-width="0.12">40</text>
<line x1="212.20" y1="408.05" x2="215.30" y2="408.05" stroke="#1e1e1e" stroke-width="0.9"/>
<text x="209.90" y="410.46" font-size="6.7" text-anchor="end" fill="#353535" font-weight="normal" stroke="#353535" stroke-width="0.12">20</text>
<line x1="212.20" y1="423.90" x2="215.30" y2="423.90" stroke="#1e1e1e" stroke-width="0.9"/>
<text x="209.90" y="426.31" font-size="6.7" text-anchor="end" fill="#353535" font-weight="normal" stroke="#353535" stroke-width="0.12">0</text>
<rect x="220.40" y="382.00" width="8.60" height="41.90" fill="#eea59c"/>
<rect x="232.60" y="383.90" width="8.70" height="40.00" fill="#a4b0d2"/>
<circle cx="223.30" cy="374.80" r="1.0" fill="#b80f2a"/>
<circle cx="226.20" cy="375.50" r="1.0" fill="#b80f2a"/>
<circle cx="224.00" cy="378.50" r="1.0" fill="#b80f2a"/>
<circle cx="226.50" cy="378.50" r="1.0" fill="#b80f2a"/>
<circle cx="223.50" cy="380.00" r="1.0" fill="#b80f2a"/>
<circle cx="226.00" cy="380.50" r="1.0" fill="#b80f2a"/>
<circle cx="222.50" cy="383.50" r="1.0" fill="#b80f2a"/>
<circle cx="225.00" cy="384.00" r="1.0" fill="#b80f2a"/>
<circle cx="225.00" cy="386.00" r="1.0" fill="#b80f2a"/>
<circle cx="224.80" cy="387.50" r="1.0" fill="#b80f2a"/>
<circle cx="236.80" cy="378.00" r="1.0" fill="#1b4782"/>
<circle cx="239.50" cy="381.00" r="1.0" fill="#1b4782"/>
<circle cx="234.50" cy="384.00" r="1.0" fill="#1b4782"/>
<circle cx="237.00" cy="383.00" r="1.0" fill="#1b4782"/>
<circle cx="239.50" cy="385.00" r="1.0" fill="#1b4782"/>
<circle cx="234.50" cy="386.00" r="1.0" fill="#1b4782"/>
<circle cx="237.00" cy="386.50" r="1.0" fill="#1b4782"/>
<circle cx="240.00" cy="387.00" r="1.0" fill="#1b4782"/>
<text transform="translate(196.60,390.40) rotate(-90)" font-size="8.2" text-anchor="middle" fill="#353535" stroke="#353535" stroke-width="0.18" textLength="59.9" lengthAdjust="spacingAndGlyphs">Pop0 (% in Foxp3<tspan font-size="78%" dy="-2.2">+</tspan><tspan dy="2.2">)</tspan></text>
<line x1="280.30" y1="358.20" x2="280.30" y2="424.45" stroke="#1e1e1e" stroke-width="1.1"/>
<line x1="279.80" y1="423.90" x2="312.80" y2="423.90" stroke="#1e1e1e" stroke-width="1.1"/>
<line x1="277.20" y1="360.50" x2="280.30" y2="360.50" stroke="#1e1e1e" stroke-width="0.9"/>
<text x="274.90" y="362.91" font-size="6.7" text-anchor="end" fill="#353535" font-weight="normal" stroke="#353535" stroke-width="0.12">15</text>
<line x1="277.20" y1="381.63" x2="280.30" y2="381.63" stroke="#1e1e1e" stroke-width="0.9"/>
<text x="274.90" y="384.05" font-size="6.7" text-anchor="end" fill="#353535" font-weight="normal" stroke="#353535" stroke-width="0.12">10</text>
<line x1="277.20" y1="402.77" x2="280.30" y2="402.77" stroke="#1e1e1e" stroke-width="0.9"/>
<text x="274.90" y="405.18" font-size="6.7" text-anchor="end" fill="#353535" font-weight="normal" stroke="#353535" stroke-width="0.12">5</text>
<line x1="277.20" y1="423.90" x2="280.30" y2="423.90" stroke="#1e1e1e" stroke-width="0.9"/>
<text x="274.90" y="426.31" font-size="6.7" text-anchor="end" fill="#353535" font-weight="normal" stroke="#353535" stroke-width="0.12">0</text>
<rect x="286.10" y="400.80" width="8.60" height="23.10" fill="#eea59c"/>
<rect x="298.30" y="394.70" width="9.10" height="29.20" fill="#a4b0d2"/>
<line x1="290.40" y1="398.00" x2="290.40" y2="404.00" stroke="#b80f2a" stroke-width="1.0"/>
<line x1="288.60" y1="404.00" x2="292.20" y2="404.00" stroke="#b80f2a" stroke-width="1.0"/>
<line x1="288.60" y1="398.00" x2="292.20" y2="398.00" stroke="#b80f2a" stroke-width="1.0"/>
<circle cx="290.70" cy="379.40" r="1.0" fill="#b80f2a"/>
<circle cx="290.70" cy="389.00" r="1.0" fill="#b80f2a"/>
<circle cx="290.70" cy="392.90" r="1.0" fill="#b80f2a"/>
<circle cx="289.00" cy="403.00" r="1.0" fill="#b80f2a"/>
<circle cx="292.50" cy="404.00" r="1.0" fill="#b80f2a"/>
<circle cx="288.00" cy="407.00" r="1.0" fill="#b80f2a"/>
<circle cx="291.00" cy="408.00" r="1.0" fill="#b80f2a"/>
<circle cx="294.00" cy="406.00" r="1.0" fill="#b80f2a"/>
<circle cx="290.00" cy="410.00" r="1.0" fill="#b80f2a"/>
<circle cx="292.50" cy="412.00" r="1.0" fill="#b80f2a"/>
<circle cx="299.50" cy="386.20" r="1.0" fill="#1b4782"/>
<circle cx="303.00" cy="386.20" r="1.0" fill="#1b4782"/>
<circle cx="305.50" cy="392.00" r="1.0" fill="#1b4782"/>
<circle cx="301.00" cy="393.00" r="1.0" fill="#1b4782"/>
<circle cx="303.00" cy="394.50" r="1.0" fill="#1b4782"/>
<circle cx="300.00" cy="396.00" r="1.0" fill="#1b4782"/>
<circle cx="304.50" cy="397.00" r="1.0" fill="#1b4782"/>
<circle cx="302.50" cy="399.00" r="1.0" fill="#1b4782"/>
<circle cx="299.80" cy="398.50" r="1.0" fill="#1b4782"/>
<circle cx="306.00" cy="398.00" r="1.0" fill="#1b4782"/>
<text transform="translate(261.60,390.40) rotate(-90)" font-size="8.2" text-anchor="middle" fill="#353535" stroke="#353535" stroke-width="0.18" textLength="59.9" lengthAdjust="spacingAndGlyphs">Pop1 (% in Foxp3<tspan font-size="78%" dy="-2.2">+</tspan><tspan dy="2.2">)</tspan></text>
<line x1="346.00" y1="358.20" x2="346.00" y2="424.45" stroke="#1e1e1e" stroke-width="1.1"/>
<line x1="345.50" y1="423.90" x2="378.50" y2="423.90" stroke="#1e1e1e" stroke-width="1.1"/>
<line x1="342.90" y1="360.50" x2="346.00" y2="360.50" stroke="#1e1e1e" stroke-width="0.9"/>
<text x="340.60" y="362.91" font-size="6.7" text-anchor="end" fill="#353535" font-weight="normal" stroke="#353535" stroke-width="0.12">60</text>
<line x1="342.90" y1="381.63" x2="346.00" y2="381.63" stroke="#1e1e1e" stroke-width="0.9"/>
<text x="340.60" y="384.05" font-size="6.7" text-anchor="end" fill="#353535" font-weight="normal" stroke="#353535" stroke-width="0.12">40</text>
<line x1="342.90" y1="402.77" x2="346.00" y2="402.77" stroke="#1e1e1e" stroke-width="0.9"/>
<text x="340.60" y="405.18" font-size="6.7" text-anchor="end" fill="#353535" font-weight="normal" stroke="#353535" stroke-width="0.12">20</text>
<line x1="342.90" y1="423.90" x2="346.00" y2="423.90" stroke="#1e1e1e" stroke-width="0.9"/>
<text x="340.60" y="426.31" font-size="6.7" text-anchor="end" fill="#353535" font-weight="normal" stroke="#353535" stroke-width="0.12">0</text>
<rect x="352.20" y="387.20" width="8.70" height="36.70" fill="#eea59c"/>
<rect x="364.40" y="388.70" width="8.60" height="35.20" fill="#a4b0d2"/>
<circle cx="356.50" cy="376.50" r="1.0" fill="#b80f2a"/>
<circle cx="356.50" cy="380.00" r="1.0" fill="#b80f2a"/>
<circle cx="356.50" cy="383.50" r="1.0" fill="#b80f2a"/>
<circle cx="354.50" cy="386.50" r="1.0" fill="#b80f2a"/>
<circle cx="356.50" cy="388.00" r="1.0" fill="#b80f2a"/>
<circle cx="358.50" cy="387.50" r="1.0" fill="#b80f2a"/>
<circle cx="354.00" cy="391.50" r="1.0" fill="#b80f2a"/>
<circle cx="357.00" cy="392.00" r="1.0" fill="#b80f2a"/>
<circle cx="359.50" cy="392.00" r="1.0" fill="#b80f2a"/>
<circle cx="356.50" cy="397.00" r="1.0" fill="#b80f2a"/>
<circle cx="368.50" cy="384.50" r="1.0" fill="#1b4782"/>
<circle cx="370.50" cy="385.00" r="1.0" fill="#1b4782"/>
<circle cx="367.00" cy="387.50" r="1.0" fill="#1b4782"/>
<circle cx="369.50" cy="388.00" r="1.0" fill="#1b4782"/>
<circle cx="372.00" cy="388.50" r="1.0" fill="#1b4782"/>
<circle cx="367.50" cy="391.00" r="1.0" fill="#1b4782"/>
<circle cx="370.50" cy="391.00" r="1.0" fill="#1b4782"/>
<circle cx="367.50" cy="394.00" r="1.0" fill="#1b4782"/>
<circle cx="370.50" cy="394.00" r="1.0" fill="#1b4782"/>
<text transform="translate(326.60,390.40) rotate(-90)" font-size="8.2" text-anchor="middle" fill="#353535" stroke="#353535" stroke-width="0.18" textLength="59.9" lengthAdjust="spacingAndGlyphs">Pop2 (% in Foxp3<tspan font-size="78%" dy="-2.2">+</tspan><tspan dy="2.2">)</tspan></text>
<line x1="412.50" y1="358.20" x2="412.50" y2="424.45" stroke="#1e1e1e" stroke-width="1.1"/>
<line x1="412.00" y1="423.90" x2="444.20" y2="423.90" stroke="#1e1e1e" stroke-width="1.1"/>
<line x1="409.40" y1="360.50" x2="412.50" y2="360.50" stroke="#1e1e1e" stroke-width="0.9"/>
<text x="407.10" y="362.91" font-size="6.7" text-anchor="end" fill="#353535" font-weight="normal" stroke="#353535" stroke-width="0.12">15</text>
<line x1="409.40" y1="381.63" x2="412.50" y2="381.63" stroke="#1e1e1e" stroke-width="0.9"/>
<text x="407.10" y="384.05" font-size="6.7" text-anchor="end" fill="#353535" font-weight="normal" stroke="#353535" stroke-width="0.12">10</text>
<line x1="409.40" y1="402.77" x2="412.50" y2="402.77" stroke="#1e1e1e" stroke-width="0.9"/>
<text x="407.10" y="405.18" font-size="6.7" text-anchor="end" fill="#353535" font-weight="normal" stroke="#353535" stroke-width="0.12">5</text>
<line x1="409.40" y1="423.90" x2="412.50" y2="423.90" stroke="#1e1e1e" stroke-width="0.9"/>
<text x="407.10" y="426.31" font-size="6.7" text-anchor="end" fill="#353535" font-weight="normal" stroke="#353535" stroke-width="0.12">0</text>
<rect x="417.80" y="404.50" width="9.10" height="19.40" fill="#eea59c"/>
<rect x="430.20" y="389.00" width="8.70" height="34.90" fill="#a4b0d2"/>
<line x1="422.30" y1="401.00" x2="422.30" y2="408.00" stroke="#b80f2a" stroke-width="1.0"/>
<line x1="420.50" y1="408.00" x2="424.10" y2="408.00" stroke="#b80f2a" stroke-width="1.0"/>
<line x1="420.50" y1="401.00" x2="424.10" y2="401.00" stroke="#b80f2a" stroke-width="1.0"/>
<circle cx="422.00" cy="392.50" r="1.0" fill="#b80f2a"/>
<circle cx="425.00" cy="392.50" r="1.0" fill="#b80f2a"/>
<circle cx="422.50" cy="397.00" r="1.0" fill="#b80f2a"/>
<circle cx="422.50" cy="401.00" r="1.0" fill="#b80f2a"/>
<circle cx="421.00" cy="405.50" r="1.0" fill="#b80f2a"/>
<circle cx="423.50" cy="407.00" r="1.0" fill="#b80f2a"/>
<circle cx="425.00" cy="409.00" r="1.0" fill="#b80f2a"/>
<circle cx="421.00" cy="412.00" r="1.0" fill="#b80f2a"/>
<circle cx="423.50" cy="413.00" r="1.0" fill="#b80f2a"/>
<circle cx="434.00" cy="380.50" r="1.0" fill="#1b4782"/>
<circle cx="436.50" cy="381.00" r="1.0" fill="#1b4782"/>
<circle cx="434.00" cy="383.50" r="1.0" fill="#1b4782"/>
<circle cx="437.00" cy="385.00" r="1.0" fill="#1b4782"/>
<circle cx="435.00" cy="387.50" r="1.0" fill="#1b4782"/>
<circle cx="434.50" cy="390.00" r="1.0" fill="#1b4782"/>
<circle cx="435.00" cy="393.00" r="1.0" fill="#1b4782"/>
<circle cx="434.50" cy="397.00" r="1.0" fill="#1b4782"/>
<path d="M421.80,377.40 V373.10 H434.80 V377.40" fill="none" stroke="#1e1e1e" stroke-width="0.9"/>
<circle cx="425.25" cy="370.90" r="0.95" fill="#2a2a2a"/>
<circle cx="428.30" cy="370.90" r="0.95" fill="#2a2a2a"/>
<circle cx="431.35" cy="370.90" r="0.95" fill="#2a2a2a"/>
<text transform="translate(392.60,390.40) rotate(-90)" font-size="8.2" text-anchor="middle" fill="#353535" stroke="#353535" stroke-width="0.18" textLength="59.9" lengthAdjust="spacingAndGlyphs">Pop3 (% in Foxp3<tspan font-size="78%" dy="-2.2">+</tspan><tspan dy="2.2">)</tspan></text>
<line x1="481.00" y1="358.20" x2="481.00" y2="424.45" stroke="#1e1e1e" stroke-width="1.1"/>
<line x1="480.50" y1="423.90" x2="513.10" y2="423.90" stroke="#1e1e1e" stroke-width="1.1"/>
<line x1="477.90" y1="360.50" x2="481.00" y2="360.50" stroke="#1e1e1e" stroke-width="0.9"/>
<text x="475.60" y="362.91" font-size="6.7" text-anchor="end" fill="#353535" font-weight="normal" stroke="#353535" stroke-width="0.12">2.0</text>
<line x1="477.90" y1="376.35" x2="481.00" y2="376.35" stroke="#1e1e1e" stroke-width="0.9"/>
<text x="475.60" y="378.76" font-size="6.7" text-anchor="end" fill="#353535" font-weight="normal" stroke="#353535" stroke-width="0.12">1.5</text>
<line x1="477.90" y1="392.20" x2="481.00" y2="392.20" stroke="#1e1e1e" stroke-width="0.9"/>
<text x="475.60" y="394.61" font-size="6.7" text-anchor="end" fill="#353535" font-weight="normal" stroke="#353535" stroke-width="0.12">1.0</text>
<line x1="477.90" y1="408.05" x2="481.00" y2="408.05" stroke="#1e1e1e" stroke-width="0.9"/>
<text x="475.60" y="410.46" font-size="6.7" text-anchor="end" fill="#353535" font-weight="normal" stroke="#353535" stroke-width="0.12">0.5</text>
<line x1="477.90" y1="423.90" x2="481.00" y2="423.90" stroke="#1e1e1e" stroke-width="0.9"/>
<text x="475.60" y="426.31" font-size="6.7" text-anchor="end" fill="#353535" font-weight="normal" stroke="#353535" stroke-width="0.12">0.0</text>
<rect x="486.80" y="407.00" width="9.00" height="16.90" fill="#eea59c"/>
<rect x="499.10" y="406.30" width="9.00" height="17.60" fill="#a4b0d2"/>
<line x1="491.30" y1="403.00" x2="491.30" y2="411.00" stroke="#b80f2a" stroke-width="1.0"/>
<line x1="489.50" y1="411.00" x2="493.10" y2="411.00" stroke="#b80f2a" stroke-width="1.0"/>
<line x1="489.50" y1="403.00" x2="493.10" y2="403.00" stroke="#b80f2a" stroke-width="1.0"/>
<line x1="503.60" y1="402.00" x2="503.60" y2="410.00" stroke="#1b4782" stroke-width="1.0"/>
<line x1="501.80" y1="410.00" x2="505.40" y2="410.00" stroke="#1b4782" stroke-width="1.0"/>
<line x1="501.80" y1="402.00" x2="505.40" y2="402.00" stroke="#1b4782" stroke-width="1.0"/>
<circle cx="491.30" cy="384.50" r="1.0" fill="#b80f2a"/>
<circle cx="491.30" cy="391.00" r="1.0" fill="#b80f2a"/>
<circle cx="491.30" cy="396.00" r="1.0" fill="#b80f2a"/>
<circle cx="487.50" cy="414.50" r="1.0" fill="#b80f2a"/>
<circle cx="490.00" cy="415.00" r="1.0" fill="#b80f2a"/>
<circle cx="492.50" cy="415.50" r="1.0" fill="#b80f2a"/>
<circle cx="495.00" cy="414.50" r="1.0" fill="#b80f2a"/>
<circle cx="489.00" cy="413.00" r="1.0" fill="#b80f2a"/>
<circle cx="493.50" cy="412.00" r="1.0" fill="#b80f2a"/>
<circle cx="491.00" cy="409.00" r="1.0" fill="#b80f2a"/>
<circle cx="503.50" cy="393.00" r="1.0" fill="#1b4782"/>
<circle cx="503.50" cy="395.50" r="1.0" fill="#1b4782"/>
<circle cx="503.50" cy="398.00" r="1.0" fill="#1b4782"/>
<circle cx="503.50" cy="402.50" r="1.0" fill="#1b4782"/>
<circle cx="501.00" cy="410.00" r="1.0" fill="#1b4782"/>
<circle cx="505.50" cy="409.00" r="1.0" fill="#1b4782"/>
<circle cx="503.50" cy="412.00" r="1.0" fill="#1b4782"/>
<circle cx="500.50" cy="415.00" r="1.0" fill="#1b4782"/>
<circle cx="503.50" cy="416.50" r="1.0" fill="#1b4782"/>
<text transform="translate(461.20,390.40) rotate(-90)" font-size="8.2" text-anchor="middle" fill="#353535" stroke="#353535" stroke-width="0.18" textLength="59.9" lengthAdjust="spacingAndGlyphs">Pop4 (% in Foxp3<tspan font-size="78%" dy="-2.2">+</tspan><tspan dy="2.2">)</tspan></text>
<line x1="215.30" y1="447.10" x2="215.30" y2="512.95" stroke="#1e1e1e" stroke-width="1.1"/>
<line x1="214.80" y1="512.40" x2="247.00" y2="512.40" stroke="#1e1e1e" stroke-width="1.1"/>
<line x1="212.20" y1="449.40" x2="215.30" y2="449.40" stroke="#1e1e1e" stroke-width="0.9"/>
<text x="209.90" y="451.81" font-size="6.7" text-anchor="end" fill="#353535" font-weight="normal" stroke="#353535" stroke-width="0.12">2.0</text>
<line x1="212.20" y1="465.15" x2="215.30" y2="465.15" stroke="#1e1e1e" stroke-width="0.9"/>
<text x="209.90" y="467.56" font-size="6.7" text-anchor="end" fill="#353535" font-weight="normal" stroke="#353535" stroke-width="0.12">1.5</text>
<line x1="212.20" y1="480.90" x2="215.30" y2="480.90" stroke="#1e1e1e" stroke-width="0.9"/>
<text x="209.90" y="483.31" font-size="6.7" text-anchor="end" fill="#353535" font-weight="normal" stroke="#353535" stroke-width="0.12">1.0</text>
<line x1="212.20" y1="496.65" x2="215.30" y2="496.65" stroke="#1e1e1e" stroke-width="0.9"/>
<text x="209.90" y="499.06" font-size="6.7" text-anchor="end" fill="#353535" font-weight="normal" stroke="#353535" stroke-width="0.12">0.5</text>
<line x1="212.20" y1="512.40" x2="215.30" y2="512.40" stroke="#1e1e1e" stroke-width="0.9"/>
<text x="209.90" y="514.81" font-size="6.7" text-anchor="end" fill="#353535" font-weight="normal" stroke="#353535" stroke-width="0.12">0.0</text>
<rect x="220.40" y="496.30" width="9.00" height="16.10" fill="#eea59c"/>
<rect x="232.60" y="482.60" width="8.70" height="29.80" fill="#a4b0d2"/>
<line x1="224.90" y1="493.00" x2="224.90" y2="500.00" stroke="#b80f2a" stroke-width="1.0"/>
<line x1="223.10" y1="500.00" x2="226.70" y2="500.00" stroke="#b80f2a" stroke-width="1.0"/>
<line x1="223.10" y1="493.00" x2="226.70" y2="493.00" stroke="#b80f2a" stroke-width="1.0"/>
<line x1="237.00" y1="479.00" x2="237.00" y2="486.00" stroke="#1b4782" stroke-width="1.0"/>
<line x1="235.20" y1="486.00" x2="238.80" y2="486.00" stroke="#1b4782" stroke-width="1.0"/>
<line x1="235.20" y1="479.00" x2="238.80" y2="479.00" stroke="#1b4782" stroke-width="1.0"/>
<circle cx="222.50" cy="478.50" r="1.0" fill="#b80f2a"/>
<circle cx="225.50" cy="478.50" r="1.0" fill="#b80f2a"/>
<circle cx="224.50" cy="484.50" r="1.0" fill="#b80f2a"/>
<circle cx="224.50" cy="488.50" r="1.0" fill="#b80f2a"/>
<circle cx="222.00" cy="496.00" r="1.0" fill="#b80f2a"/>
<circle cx="224.50" cy="497.00" r="1.0" fill="#b80f2a"/>
<circle cx="227.00" cy="496.00" r="1.0" fill="#b80f2a"/>
<circle cx="222.00" cy="500.00" r="1.0" fill="#b80f2a"/>
<circle cx="226.00" cy="502.00" r="1.0" fill="#b80f2a"/>
<circle cx="224.50" cy="505.00" r="1.0" fill="#b80f2a"/>
<circle cx="237.20" cy="458.80" r="1.0" fill="#1b4782"/>
<circle cx="237.20" cy="474.80" r="1.0" fill="#1b4782"/>
<circle cx="235.00" cy="479.00" r="1.0" fill="#1b4782"/>
<circle cx="237.20" cy="481.00" r="1.0" fill="#1b4782"/>
<circle cx="236.00" cy="483.50" r="1.0" fill="#1b4782"/>
<circle cx="239.00" cy="484.50" r="1.0" fill="#1b4782"/>
<circle cx="235.50" cy="487.50" r="1.0" fill="#1b4782"/>
<circle cx="238.00" cy="489.50" r="1.0" fill="#1b4782"/>
<circle cx="237.20" cy="496.00" r="1.0" fill="#1b4782"/>
<path d="M224.70,455.20 V451.30 H237.70 V455.20" fill="none" stroke="#1e1e1e" stroke-width="0.9"/>
<circle cx="229.67" cy="448.00" r="0.95" fill="#2a2a2a"/>
<circle cx="232.72" cy="448.00" r="0.95" fill="#2a2a2a"/>
<text transform="translate(194.80,479.50) rotate(-90)" font-size="8.2" text-anchor="middle" fill="#353535" stroke="#353535" stroke-width="0.18" textLength="49.5" lengthAdjust="spacingAndGlyphs">Pop0 (×10<tspan font-size="78%" dy="-2.2">5</tspan><tspan dy="2.2">/ml)</tspan></text>
<line x1="280.30" y1="447.10" x2="280.30" y2="512.95" stroke="#1e1e1e" stroke-width="1.1"/>
<line x1="279.80" y1="512.40" x2="312.80" y2="512.40" stroke="#1e1e1e" stroke-width="1.1"/>
<line x1="277.20" y1="449.40" x2="280.30" y2="449.40" stroke="#1e1e1e" stroke-width="0.9"/>
<text x="274.90" y="451.81" font-size="6.7" text-anchor="end" fill="#353535" font-weight="normal" stroke="#353535" stroke-width="0.12">0.3</text>
<line x1="277.20" y1="470.40" x2="280.30" y2="470.40" stroke="#1e1e1e" stroke-width="0.9"/>
<text x="274.90" y="472.81" font-size="6.7" text-anchor="end" fill="#353535" font-weight="normal" stroke="#353535" stroke-width="0.12">0.2</text>
<line x1="277.20" y1="491.40" x2="280.30" y2="491.40" stroke="#1e1e1e" stroke-width="0.9"/>
<text x="274.90" y="493.81" font-size="6.7" text-anchor="end" fill="#353535" font-weight="normal" stroke="#353535" stroke-width="0.12">0.1</text>
<line x1="277.20" y1="512.40" x2="280.30" y2="512.40" stroke="#1e1e1e" stroke-width="0.9"/>
<text x="274.90" y="514.81" font-size="6.7" text-anchor="end" fill="#353535" font-weight="normal" stroke="#353535" stroke-width="0.12">0.0</text>
<rect x="286.10" y="503.50" width="8.90" height="8.90" fill="#eea59c"/>
<rect x="298.30" y="484.70" width="9.10" height="27.70" fill="#a4b0d2"/>
<line x1="302.80" y1="481.00" x2="302.80" y2="489.00" stroke="#1b4782" stroke-width="1.0"/>
<line x1="301.00" y1="489.00" x2="304.60" y2="489.00" stroke="#1b4782" stroke-width="1.0"/>
<line x1="301.00" y1="481.00" x2="304.60" y2="481.00" stroke="#1b4782" stroke-width="1.0"/>
<circle cx="291.00" cy="495.40" r="1.0" fill="#b80f2a"/>
<circle cx="290.00" cy="498.50" r="1.0" fill="#b80f2a"/>
<circle cx="293.00" cy="500.00" r="1.0" fill="#b80f2a"/>
<circle cx="289.00" cy="502.00" r="1.0" fill="#b80f2a"/>
<circle cx="291.50" cy="503.50" r="1.0" fill="#b80f2a"/>
<circle cx="294.00" cy="505.00" r="1.0" fill="#b80f2a"/>
<circle cx="290.00" cy="507.00" r="1.0" fill="#b80f2a"/>
<circle cx="292.50" cy="508.50" r="1.0" fill="#b80f2a"/>
<circle cx="291.00" cy="510.00" r="1.0" fill="#b80f2a"/>
<circle cx="303.20" cy="466.20" r="1.0" fill="#1b4782"/>
<circle cx="303.20" cy="479.70" r="1.0" fill="#1b4782"/>
<circle cx="302.00" cy="486.00" r="1.0" fill="#1b4782"/>
<circle cx="300.00" cy="490.50" r="1.0" fill="#1b4782"/>
<circle cx="303.00" cy="491.00" r="1.0" fill="#1b4782"/>
<circle cx="306.00" cy="490.50" r="1.0" fill="#1b4782"/>
<circle cx="302.50" cy="484.50" r="1.0" fill="#1b4782"/>
<path d="M290.40,462.40 V458.50 H303.10 V462.40" fill="none" stroke="#1e1e1e" stroke-width="0.9"/>
<circle cx="292.18" cy="455.20" r="0.95" fill="#2a2a2a"/>
<circle cx="295.23" cy="455.20" r="0.95" fill="#2a2a2a"/>
<circle cx="298.27" cy="455.20" r="0.95" fill="#2a2a2a"/>
<circle cx="301.32" cy="455.20" r="0.95" fill="#2a2a2a"/>
<text transform="translate(259.80,479.50) rotate(-90)" font-size="8.2" text-anchor="middle" fill="#353535" stroke="#353535" stroke-width="0.18" textLength="49.5" lengthAdjust="spacingAndGlyphs">Pop1 (×10<tspan font-size="78%" dy="-2.2">5</tspan><tspan dy="2.2">/ml)</tspan></text>
<line x1="346.00" y1="447.10" x2="346.00" y2="512.95" stroke="#1e1e1e" stroke-width="1.1"/>
<line x1="345.50" y1="512.40" x2="378.50" y2="512.40" stroke="#1e1e1e" stroke-width="1.1"/>
<line x1="342.90" y1="449.40" x2="346.00" y2="449.40" stroke="#1e1e1e" stroke-width="0.9"/>
<text x="340.60" y="451.81" font-size="6.7" text-anchor="end" fill="#353535" font-weight="normal" stroke="#353535" stroke-width="0.12">1.0</text>
<line x1="342.90" y1="462.00" x2="346.00" y2="462.00" stroke="#1e1e1e" stroke-width="0.9"/>
<text x="340.60" y="464.41" font-size="6.7" text-anchor="end" fill="#353535" font-weight="normal" stroke="#353535" stroke-width="0.12">0.8</text>
<line x1="342.90" y1="474.60" x2="346.00" y2="474.60" stroke="#1e1e1e" stroke-width="0.9"/>
<text x="340.60" y="477.01" font-size="6.7" text-anchor="end" fill="#353535" font-weight="normal" stroke="#353535" stroke-width="0.12">0.6</text>
<line x1="342.90" y1="487.20" x2="346.00" y2="487.20" stroke="#1e1e1e" stroke-width="0.9"/>
<text x="340.60" y="489.61" font-size="6.7" text-anchor="end" fill="#353535" font-weight="normal" stroke="#353535" stroke-width="0.12">0.4</text>
<line x1="342.90" y1="499.80" x2="346.00" y2="499.80" stroke="#1e1e1e" stroke-width="0.9"/>
<text x="340.60" y="502.21" font-size="6.7" text-anchor="end" fill="#353535" font-weight="normal" stroke="#353535" stroke-width="0.12">0.2</text>
<line x1="342.90" y1="512.40" x2="346.00" y2="512.40" stroke="#1e1e1e" stroke-width="0.9"/>
<text x="340.60" y="514.81" font-size="6.7" text-anchor="end" fill="#353535" font-weight="normal" stroke="#353535" stroke-width="0.12">0.0</text>
<rect x="352.20" y="491.70" width="8.70" height="20.70" fill="#eea59c"/>
<rect x="364.40" y="473.90" width="8.60" height="38.50" fill="#a4b0d2"/>
<line x1="356.50" y1="489.00" x2="356.50" y2="494.00" stroke="#b80f2a" stroke-width="1.0"/>
<line x1="354.70" y1="494.00" x2="358.30" y2="494.00" stroke="#b80f2a" stroke-width="1.0"/>
<line x1="354.70" y1="489.00" x2="358.30" y2="489.00" stroke="#b80f2a" stroke-width="1.0"/>
<line x1="368.70" y1="470.00" x2="368.70" y2="477.00" stroke="#1b4782" stroke-width="1.0"/>
<line x1="366.90" y1="477.00" x2="370.50" y2="477.00" stroke="#1b4782" stroke-width="1.0"/>
<line x1="366.90" y1="470.00" x2="370.50" y2="470.00" stroke="#1b4782" stroke-width="1.0"/>
<circle cx="353.60" cy="483.70" r="1.0" fill="#b80f2a"/>
<circle cx="356.00" cy="483.70" r="1.0" fill="#b80f2a"/>
<circle cx="358.50" cy="483.70" r="1.0" fill="#b80f2a"/>
<circle cx="361.00" cy="483.50" r="1.0" fill="#b80f2a"/>
<circle cx="356.50" cy="492.00" r="1.0" fill="#b80f2a"/>
<circle cx="355.00" cy="495.00" r="1.0" fill="#b80f2a"/>
<circle cx="357.50" cy="498.00" r="1.0" fill="#b80f2a"/>
<circle cx="354.50" cy="502.00" r="1.0" fill="#b80f2a"/>
<circle cx="357.00" cy="503.00" r="1.0" fill="#b80f2a"/>
<circle cx="368.50" cy="461.00" r="1.0" fill="#1b4782"/>
<circle cx="371.50" cy="462.00" r="1.0" fill="#1b4782"/>
<circle cx="369.50" cy="464.50" r="1.0" fill="#1b4782"/>
<circle cx="368.50" cy="468.00" r="1.0" fill="#1b4782"/>
<circle cx="371.00" cy="472.00" r="1.0" fill="#1b4782"/>
<circle cx="369.00" cy="475.00" r="1.0" fill="#1b4782"/>
<circle cx="372.00" cy="476.00" r="1.0" fill="#1b4782"/>
<circle cx="366.50" cy="489.50" r="1.0" fill="#1b4782"/>
<circle cx="369.50" cy="488.50" r="1.0" fill="#1b4782"/>
<path d="M356.10,456.60 V453.00 H368.70 V456.60" fill="none" stroke="#1e1e1e" stroke-width="0.9"/>
<circle cx="359.35" cy="450.40" r="0.95" fill="#2a2a2a"/>
<circle cx="362.40" cy="450.40" r="0.95" fill="#2a2a2a"/>
<circle cx="365.45" cy="450.40" r="0.95" fill="#2a2a2a"/>
<text transform="translate(324.80,479.50) rotate(-90)" font-size="8.2" text-anchor="middle" fill="#353535" stroke="#353535" stroke-width="0.18" textLength="49.5" lengthAdjust="spacingAndGlyphs">Pop2 (×10<tspan font-size="78%" dy="-2.2">5</tspan><tspan dy="2.2">/ml)</tspan></text>
<line x1="412.50" y1="447.10" x2="412.50" y2="512.95" stroke="#1e1e1e" stroke-width="1.1"/>
<line x1="412.00" y1="512.40" x2="444.20" y2="512.40" stroke="#1e1e1e" stroke-width="1.1"/>
<line x1="409.40" y1="449.40" x2="412.50" y2="449.40" stroke="#1e1e1e" stroke-width="0.9"/>
<text x="407.10" y="451.81" font-size="6.7" text-anchor="end" fill="#353535" font-weight="normal" stroke="#353535" stroke-width="0.12">0.3</text>
<line x1="409.40" y1="470.40" x2="412.50" y2="470.40" stroke="#1e1e1e" stroke-width="0.9"/>
<text x="407.10" y="472.81" font-size="6.7" text-anchor="end" fill="#353535" font-weight="normal" stroke="#353535" stroke-width="0.12">0.2</text>
<line x1="409.40" y1="491.40" x2="412.50" y2="491.40" stroke="#1e1e1e" stroke-width="0.9"/>
<text x="407.10" y="493.81" font-size="6.7" text-anchor="end" fill="#353535" font-weight="normal" stroke="#353535" stroke-width="0.12">0.1</text>
<line x1="409.40" y1="512.40" x2="412.50" y2="512.40" stroke="#1e1e1e" stroke-width="0.9"/>
<text x="407.10" y="514.81" font-size="6.7" text-anchor="end" fill="#353535" font-weight="normal" stroke="#353535" stroke-width="0.12">0.0</text>
<rect x="417.80" y="504.20" width="9.10" height="8.20" fill="#eea59c"/>
<rect x="430.20" y="480.10" width="8.70" height="32.30" fill="#a4b0d2"/>
<line x1="434.50" y1="476.00" x2="434.50" y2="484.00" stroke="#1b4782" stroke-width="1.0"/>
<line x1="432.70" y1="484.00" x2="436.30" y2="484.00" stroke="#1b4782" stroke-width="1.0"/>
<line x1="432.70" y1="476.00" x2="436.30" y2="476.00" stroke="#1b4782" stroke-width="1.0"/>
<circle cx="420.00" cy="504.00" r="1.0" fill="#b80f2a"/>
<circle cx="422.50" cy="503.00" r="1.0" fill="#b80f2a"/>
<circle cx="425.00" cy="504.00" r="1.0" fill="#b80f2a"/>
<circle cx="423.00" cy="505.50" r="1.0" fill="#b80f2a"/>
<circle cx="421.00" cy="506.00" r="1.0" fill="#b80f2a"/>
<circle cx="419.00" cy="505.00" r="1.0" fill="#b80f2a"/>
<circle cx="434.60" cy="466.00" r="1.0" fill="#1b4782"/>
<circle cx="436.50" cy="466.50" r="1.0" fill="#1b4782"/>
<circle cx="434.50" cy="471.50" r="1.0" fill="#1b4782"/>
<circle cx="434.50" cy="474.50" r="1.0" fill="#1b4782"/>
<circle cx="434.50" cy="477.00" r="1.0" fill="#1b4782"/>
<circle cx="434.50" cy="482.00" r="1.0" fill="#1b4782"/>
<circle cx="432.50" cy="485.00" r="1.0" fill="#1b4782"/>
<circle cx="436.50" cy="484.50" r="1.0" fill="#1b4782"/>
<circle cx="434.50" cy="490.00" r="1.0" fill="#1b4782"/>
<path d="M421.80,461.60 V458.00 H434.80 V461.60" fill="none" stroke="#1e1e1e" stroke-width="0.9"/>
<circle cx="423.73" cy="454.40" r="0.95" fill="#2a2a2a"/>
<circle cx="426.78" cy="454.40" r="0.95" fill="#2a2a2a"/>
<circle cx="429.82" cy="454.40" r="0.95" fill="#2a2a2a"/>
<circle cx="432.88" cy="454.40" r="0.95" fill="#2a2a2a"/>
<text transform="translate(390.50,479.50) rotate(-90)" font-size="8.2" text-anchor="middle" fill="#353535" stroke="#353535" stroke-width="0.18" textLength="49.5" lengthAdjust="spacingAndGlyphs">Pop3 (×10<tspan font-size="78%" dy="-2.2">5</tspan><tspan dy="2.2">/ml)</tspan></text>
<line x1="481.30" y1="447.20" x2="481.30" y2="512.55" stroke="#1e1e1e" stroke-width="1.1"/>
<line x1="480.80" y1="512.00" x2="510.80" y2="512.00" stroke="#1e1e1e" stroke-width="1.1"/>
<line x1="478.20" y1="449.50" x2="481.30" y2="449.50" stroke="#1e1e1e" stroke-width="0.9"/>
<text x="475.90" y="451.91" font-size="6.7" text-anchor="end" fill="#353535" font-weight="normal" stroke="#353535" stroke-width="0.12">0.03</text>
<line x1="478.20" y1="470.33" x2="481.30" y2="470.33" stroke="#1e1e1e" stroke-width="0.9"/>
<text x="475.90" y="472.75" font-size="6.7" text-anchor="end" fill="#353535" font-weight="normal" stroke="#353535" stroke-width="0.12">0.02</text>
<line x1="478.20" y1="491.17" x2="481.30" y2="491.17" stroke="#1e1e1e" stroke-width="0.9"/>
<text x="475.90" y="493.58" font-size="6.7" text-anchor="end" fill="#353535" font-weight="normal" stroke="#353535" stroke-width="0.12">0.01</text>
<line x1="478.20" y1="512.00" x2="481.30" y2="512.00" stroke="#1e1e1e" stroke-width="0.9"/>
<text x="475.90" y="514.41" font-size="6.7" text-anchor="end" fill="#353535" font-weight="normal" stroke="#353535" stroke-width="0.12">0.00</text>
<rect x="487.10" y="504.30" width="9.20" height="7.70" fill="#eea59c"/>
<rect x="499.40" y="490.20" width="8.70" height="21.80" fill="#a4b0d2"/>
<line x1="503.80" y1="484.00" x2="503.80" y2="496.00" stroke="#1b4782" stroke-width="1.0"/>
<line x1="502.00" y1="496.00" x2="505.60" y2="496.00" stroke="#1b4782" stroke-width="1.0"/>
<line x1="502.00" y1="484.00" x2="505.60" y2="484.00" stroke="#1b4782" stroke-width="1.0"/>
<circle cx="491.50" cy="496.50" r="1.0" fill="#b80f2a"/>
<circle cx="489.00" cy="501.00" r="1.0" fill="#b80f2a"/>
<circle cx="492.00" cy="502.00" r="1.0" fill="#b80f2a"/>
<circle cx="494.50" cy="502.50" r="1.0" fill="#b80f2a"/>
<circle cx="489.50" cy="505.50" r="1.0" fill="#b80f2a"/>
<circle cx="493.00" cy="506.00" r="1.0" fill="#b80f2a"/>
<circle cx="491.50" cy="508.00" r="1.0" fill="#b80f2a"/>
<circle cx="503.70" cy="452.40" r="1.0" fill="#1b4782"/>
<circle cx="503.70" cy="478.50" r="1.0" fill="#1b4782"/>
<circle cx="503.70" cy="484.50" r="1.0" fill="#1b4782"/>
<circle cx="502.00" cy="487.00" r="1.0" fill="#1b4782"/>
<circle cx="500.50" cy="498.00" r="1.0" fill="#1b4782"/>
<circle cx="503.70" cy="499.00" r="1.0" fill="#1b4782"/>
<circle cx="506.50" cy="498.00" r="1.0" fill="#1b4782"/>
<circle cx="503.70" cy="502.00" r="1.0" fill="#1b4782"/>
<path d="M491.40,448.40 V444.90 H503.70 V448.40" fill="none" stroke="#1e1e1e" stroke-width="0.9"/>
<circle cx="496.02" cy="442.30" r="0.95" fill="#2a2a2a"/>
<circle cx="499.07" cy="442.30" r="0.95" fill="#2a2a2a"/>
<text transform="translate(457.20,479.50) rotate(-90)" font-size="8.2" text-anchor="middle" fill="#353535" stroke="#353535" stroke-width="0.18" textLength="49.5" lengthAdjust="spacingAndGlyphs">Pop4 (×10<tspan font-size="78%" dy="-2.2">5</tspan><tspan dy="2.2">/ml)</tspan></text>
<rect x="466.40" y="523.10" width="1.6" height="1.6" fill="#b80f2a"/>
<rect x="466.40" y="531.10" width="1.6" height="1.6" fill="#1b4782"/>
<text x="470.80" y="526.30" font-size="6.9" text-anchor="start" fill="#333" font-weight="normal" >Non-mobilized</text>
<text x="470.80" y="534.30" font-size="6.9" text-anchor="start" fill="#333" font-weight="normal" >Mobilized</text>
<rect x="0.5" y="0.5" width="519" height="653" fill="none" stroke="#4d4d4d" stroke-width="1.2"/>
</svg>
</body></html>
